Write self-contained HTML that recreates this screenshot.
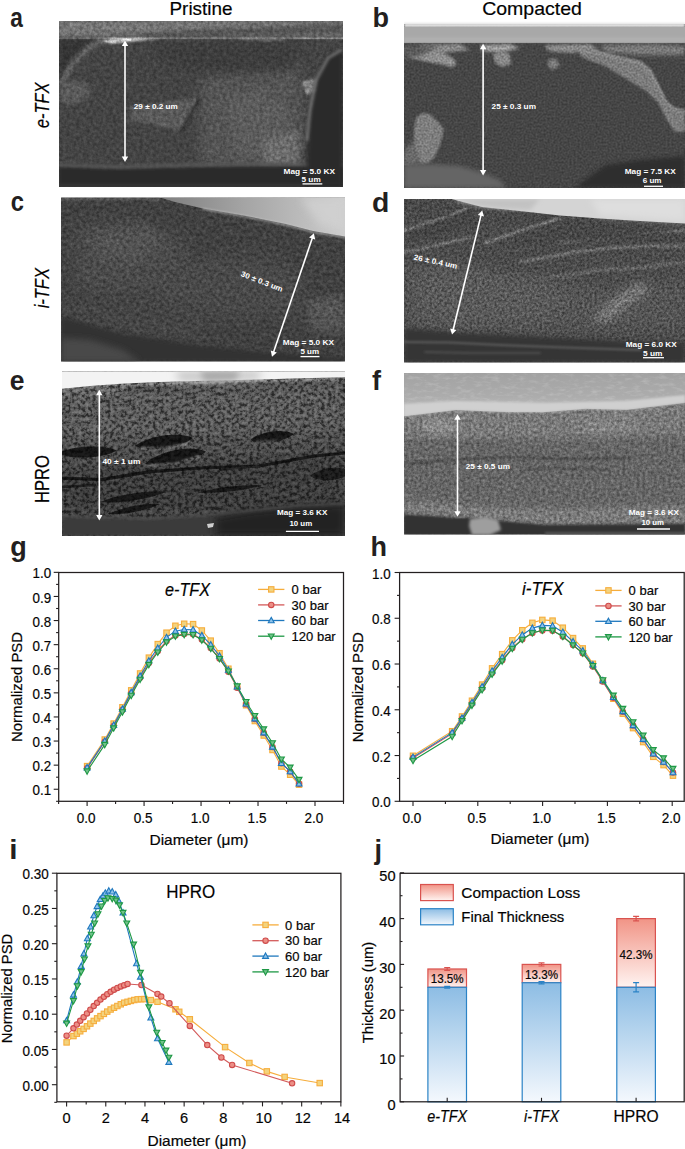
<!DOCTYPE html><html><head><meta charset="utf-8"><style>html,body{margin:0;padding:0;background:#fff;width:685px;height:1149px;overflow:hidden}svg{display:block;font-family:"Liberation Sans",sans-serif}</style></head><body><svg width="685" height="1149" viewBox="0 0 685 1149" font-family="Liberation Sans, sans-serif">
<rect width="685" height="1149" fill="#fff"/>
<defs><filter id="b0_7" filterUnits="userSpaceOnUse" x="0" y="0" width="685" height="1149"><feGaussianBlur stdDeviation="0.7"/></filter><filter id="b1" filterUnits="userSpaceOnUse" x="0" y="0" width="685" height="1149"><feGaussianBlur stdDeviation="1"/></filter><filter id="b1_5" filterUnits="userSpaceOnUse" x="0" y="0" width="685" height="1149"><feGaussianBlur stdDeviation="1.5"/></filter><filter id="b2" filterUnits="userSpaceOnUse" x="0" y="0" width="685" height="1149"><feGaussianBlur stdDeviation="2"/></filter><filter id="b3" filterUnits="userSpaceOnUse" x="0" y="0" width="685" height="1149"><feGaussianBlur stdDeviation="3"/></filter><filter id="b4" filterUnits="userSpaceOnUse" x="0" y="0" width="685" height="1149"><feGaussianBlur stdDeviation="4"/></filter><filter id="b6" filterUnits="userSpaceOnUse" x="0" y="0" width="685" height="1149"><feGaussianBlur stdDeviation="6"/></filter><filter id="b8" filterUnits="userSpaceOnUse" x="0" y="0" width="685" height="1149"><feGaussianBlur stdDeviation="8"/></filter></defs>
<clipPath id="ca"><rect x="59" y="21" width="284" height="166"/></clipPath>
<filter id="na" filterUnits="userSpaceOnUse" x="59" y="21" width="284" height="166" color-interpolation-filters="sRGB"><feTurbulence type="fractalNoise" baseFrequency="0.3" numOctaves="3" seed="3" result="t"/><feColorMatrix in="t" type="matrix" values="1 0 0 0 0  1 0 0 0 0  1 0 0 0 0  0 0 0 0 1" result="g00"/><feGaussianBlur in="g00" stdDeviation="0.45" result="g0"/><feComponentTransfer in="g0" result="g"><feFuncR type="linear" slope="1.0" intercept="0.0"/><feFuncG type="linear" slope="1.0" intercept="0.0"/><feFuncB type="linear" slope="1.0" intercept="0.0"/></feComponentTransfer><feComposite in="SourceGraphic" in2="g" operator="arithmetic" k1="0.7" k2="0.65" k3="0" k4="0"/></filter>
<g clip-path="url(#ca)"><g filter="url(#na)">
<rect x="59" y="21" width="284" height="166" fill="#444444"/>
<rect x="59" y="21" width="284" height="17" fill="#636363" opacity="1"/>
<path d="M59,21 L343,21 L343,24 L200,29 L100,35 L59,37 Z" fill="#767676" opacity="1" filter="url(#b2)"/>
<path d="M100,37 L200,31 L343,24.5 L343,31 L200,36.5 L120,38 Z" fill="#545454" opacity="1" filter="url(#b2)"/>
<rect x="59" y="37.4" width="284" height="1.8" fill="#878787" opacity="1" filter="url(#b0_7)"/>
<path d="M100,41 L115,38.5 L135,38 L160,39.5 L135,41 L112,44 Z" fill="#c8c8c8" opacity="1" filter="url(#b1)"/>
<path d="M120,38.5 L132,38.2 L131,40.5 L121,40.8 Z" fill="#e8e8e8" opacity="1" filter="url(#b0_7)"/>
<path d="M240,39.5 L255,38.5 L270,40 L283,39.5" fill="none" stroke="#a8a8a8" stroke-width="1.6" stroke-linecap="round" stroke-linejoin="round" opacity="1" filter="url(#b1)"/>
<path d="M59,39 L100,39 L84,50 L70,64 L62,80 L59,84 Z" fill="#353535" opacity="1" filter="url(#b2)"/>
<path d="M101,41 L88,48 L76,60 L67,72 L61,84" fill="none" stroke="#686868" stroke-width="5" stroke-linecap="round" stroke-linejoin="round" opacity="1" filter="url(#b2)"/>
<path d="M59,83 L72,80 L88,84 L90,96 L76,104 L59,103 Z" fill="#5a5a5a" opacity="1" filter="url(#b2)"/>
<path d="M200,70 L300,66 L305,150 L290,166 L200,166 Z" fill="#555555" opacity="1" filter="url(#b6)"/>
<path d="M225,100 L260,90 L290,110 L280,150 L240,160 Z" fill="#5c5c5c" opacity="1" filter="url(#b4)"/>
<path d="M150,42 L300,42 L290,70 L200,75 L160,60 Z" fill="#3e3e3e" opacity="1" filter="url(#b6)"/>
<path d="M263,140 L298,130 L300,166 L263,166 Z" fill="#6c6c6c" opacity="1" filter="url(#b3)"/>
<path d="M302,82 L318,78 L322,90 L306,95 Z" fill="#8a8a8a" opacity="1" filter="url(#b1)"/>
<path d="M130.4,107 L199.2,97 L180.8,130.5 L130.4,120.4 Z" fill="#5a5a5a" opacity="1" filter="url(#b1)"/>
<path d="M199.5,98 L181.5,131" fill="none" stroke="#2e2e2e" stroke-width="2" stroke-linecap="round" stroke-linejoin="round" opacity="1" filter="url(#b1)"/>
</g>
<path d="M59,166 L110,168.5 L170,167.5 L230,166 L300,165.5 L343,166 L343,187 L59,187 Z" fill="#2a2a2a" opacity="1" filter="url(#b1_5)"/>
<path d="M59,165 L120,167 L190,165 L260,164 L343,165" fill="none" stroke="#595959" stroke-width="3" stroke-linecap="round" stroke-linejoin="round" opacity="1" filter="url(#b1_5)"/>
<rect x="59" y="184" width="284" height="3" fill="#363636" opacity="1" filter="url(#b1)"/>
<path d="M343,49 L328,55 L315,80 L308,120 L306,187 L343,187 Z" fill="#2a2a2a" opacity="1" filter="url(#b2)"/>
<path d="M341,50 L328,58 L316,80 L310,110 L307,140" fill="none" stroke="#7c7c7c" stroke-width="2.5" stroke-linecap="round" stroke-linejoin="round" opacity="1" filter="url(#b1_5)"/>
</g>
<line x1="125.00" y1="44.90" x2="125.00" y2="157.60" stroke="#fff" stroke-width="1.6"/>
<path d="M125.00,40.50 L121.80,46.00 L128.20,46.00 Z" fill="#fff"/>
<path d="M125.00,162.00 L121.80,156.50 L128.20,156.50 Z" fill="#fff"/>
<text x="133.8" y="109.2" font-size="7.6" font-weight="bold" fill="#fff" text-anchor="start" textLength="44" lengthAdjust="spacingAndGlyphs">29 ± 0.2 um</text>
<text x="283.5" y="173.5" font-size="7.6" font-weight="bold" fill="#fff" text-anchor="start" textLength="51.5" lengthAdjust="spacingAndGlyphs">Mag = 5.0 KX</text>
<text x="301.5" y="181.8" font-size="7.6" font-weight="bold" fill="#fff" text-anchor="start" textLength="19.2" lengthAdjust="spacingAndGlyphs">5 um</text>
<line x1="302.5" y1="183.9" x2="322.3" y2="183.9" stroke="#fff" stroke-width="1.3"/>
<clipPath id="cb"><rect x="404" y="21" width="281" height="167"/></clipPath>
<filter id="nb" filterUnits="userSpaceOnUse" x="404" y="21" width="281" height="167" color-interpolation-filters="sRGB"><feTurbulence type="fractalNoise" baseFrequency="0.5" numOctaves="2" seed="5" result="t"/><feColorMatrix in="t" type="matrix" values="1 0 0 0 0  1 0 0 0 0  1 0 0 0 0  0 0 0 0 1" result="g00"/><feGaussianBlur in="g00" stdDeviation="0.45" result="g0"/><feComponentTransfer in="g0" result="g"><feFuncR type="linear" slope="1.0" intercept="0.0"/><feFuncG type="linear" slope="1.0" intercept="0.0"/><feFuncB type="linear" slope="1.0" intercept="0.0"/></feComponentTransfer><feComposite in="SourceGraphic" in2="g" operator="arithmetic" k1="0.64" k2="0.6799999999999999" k3="0" k4="0"/></filter>
<g clip-path="url(#cb)"><g filter="url(#nb)">
<rect x="404" y="21" width="281" height="167" fill="#464646"/>
<path d="M420,45 L460,44 L470,50 L440,53 L420,52 Z" fill="#8a8a8a" opacity="1" filter="url(#b1_5)"/>
<path d="M480,45 L510,44 L520,48 L500,53 L482,51 Z" fill="#9c9c9c" opacity="1" filter="url(#b1_5)"/>
<path d="M545,45 L590,44 L600,50 L570,53 L548,51 Z" fill="#8a8a8a" opacity="1" filter="url(#b1_5)"/>
<path d="M600,45 L650,44 L685,46 L685,55 L640,55 L605,52 Z" fill="#7c7c7c" opacity="1" filter="url(#b2)"/>
<path d="M406,54 L416,49.8 L431,48.8 L445,53 L454,59 L456.5,64.3 L452.4,67.3 L441,64.3 L424.6,61.2 L410,58 Z" fill="#8e8e8e" opacity="1" filter="url(#b1)"/>
<path d="M493,55 L502,51 L510,54 L511,64 L503,67 L495,63 Z" fill="#878787" opacity="1" filter="url(#b1)"/>
<path d="M580.4,51.8 L596.8,51.8 L621.4,57.9 L639.8,62 L650.1,70.2 L658.3,86.6 L666.5,103 L674.7,109.2 L685,111.2 L685,131.7 L674.7,131.7 L666.5,119.4 L658.3,103 L646,90.7 L625.5,78.4 L605,66.1 L588.6,60 L580.4,55.9 Z" fill="#7c7c7c" opacity="1" filter="url(#b1)"/>
<path d="M581,52 L597,52 L621,58 L640,62 L650,70 L658,86 L666,102 L675,109 L685,111" fill="none" stroke="#9c9c9c" stroke-width="2" stroke-linecap="round" stroke-linejoin="round" opacity="1" filter="url(#b1)"/>
<path d="M547.6,60 L556,58 L560,66 L552,70 L548,66 Z" fill="#7a7a7a" opacity="1" filter="url(#b1)"/>
<path d="M400,45 L440,46 L420,56 L404,60 Z" fill="#5a5a5a" opacity="1" filter="url(#b2)"/>
<path d="M416,118 L422,113 L430,114 L440,124 L444,130 L440,145 L434,158 L428,163 L420,164 L414,150 L414,130 Z" fill="#7e7e7e" opacity="1" filter="url(#b1)"/>
<path d="M404,150 L414,140 L420,164 L404,166 Z" fill="#6a6a6a" opacity="1" filter="url(#b2)"/>
</g>
<rect x="404" y="21" width="281" height="3" fill="#ffffff" opacity="1"/>
<rect x="404" y="23" width="281" height="4.5" fill="#e2e2e2" opacity="1" filter="url(#b1)"/>
<rect x="404" y="27" width="281" height="14.8" fill="#a8a8a8" opacity="1" filter="url(#b0_7)"/>
<rect x="404" y="37.5" width="281" height="4.3" fill="#b0b0b0" opacity="1" filter="url(#b1)"/>
<rect x="404" y="41.6" width="281" height="1.1" fill="#bcbcbc" opacity="1" filter="url(#b0_7)"/>
<path d="M404,165 L430,164 L460,166 L480,172 L500,180 L506,188 L404,188 Z" fill="#656565" opacity="1" filter="url(#b2)"/>
<path d="M575,188 L590,176 L606,165 L640,160 L685,156 L685,188 Z" fill="#2f2f2f" opacity="1" filter="url(#b2)"/>
</g>
<line x1="483.10" y1="48.10" x2="483.10" y2="171.10" stroke="#fff" stroke-width="1.6"/>
<path d="M483.10,43.70 L479.90,49.20 L486.30,49.20 Z" fill="#fff"/>
<path d="M483.10,175.50 L479.90,170.00 L486.30,170.00 Z" fill="#fff"/>
<text x="491.6" y="108.9" font-size="7.6" font-weight="bold" fill="#fff" text-anchor="start" textLength="44.4" lengthAdjust="spacingAndGlyphs">25 ± 0.3 um</text>
<text x="624.7" y="173.6" font-size="7.6" font-weight="bold" fill="#fff" text-anchor="start" textLength="51.1" lengthAdjust="spacingAndGlyphs">Mag = 7.5 KX</text>
<text x="642.7" y="183.0" font-size="7.6" font-weight="bold" fill="#fff" text-anchor="start" textLength="18.8" lengthAdjust="spacingAndGlyphs">6 um</text>
<line x1="644" y1="186.3" x2="663" y2="186.3" stroke="#fff" stroke-width="1.3"/>
<defs><linearGradient id="gc1" gradientUnits="userSpaceOnUse" x1="160" y1="0" x2="345" y2="0"><stop offset="0" stop-color="#7e7e7e"/><stop offset="0.45" stop-color="#a4a4a4"/><stop offset="1" stop-color="#cdcdcd"/></linearGradient></defs>
<clipPath id="cc"><rect x="61" y="197.5" width="284" height="164.0"/></clipPath>
<filter id="nc" filterUnits="userSpaceOnUse" x="61" y="197.5" width="284" height="164.0" color-interpolation-filters="sRGB"><feTurbulence type="fractalNoise" baseFrequency="0.3" numOctaves="3" seed="7" result="t"/><feColorMatrix in="t" type="matrix" values="1 0 0 0 0  1 0 0 0 0  1 0 0 0 0  0 0 0 0 1" result="g00"/><feGaussianBlur in="g00" stdDeviation="0.45" result="g0"/><feComponentTransfer in="g0" result="g"><feFuncR type="linear" slope="1.3" intercept="-0.15000000000000002"/><feFuncG type="linear" slope="1.3" intercept="-0.15000000000000002"/><feFuncB type="linear" slope="1.3" intercept="-0.15000000000000002"/></feComponentTransfer><feComposite in="SourceGraphic" in2="g" operator="arithmetic" k1="0.7" k2="0.65" k3="0" k4="0"/></filter>
<g clip-path="url(#cc)"><g filter="url(#nc)">
<rect x="61" y="197.5" width="284" height="164.0" fill="#414141"/>
<path d="M61,197.5 L160,197.5 L160,200 L61,200 Z" fill="#5e5e5e" opacity="1" filter="url(#b1)"/>
<path d="M75,225 L140,222 L185,240 L185,285 L130,295 L75,290 Z" fill="#4c4c4c" opacity="1" filter="url(#b8)"/>
<path d="M95,232 L150,226 L165,250 L130,262 L95,258 Z" fill="#525252" opacity="1" filter="url(#b6)"/>
<path d="M150,262 L260,255 L300,270 L300,315 L200,318 L150,300 Z" fill="#484848" opacity="1" filter="url(#b8)"/>
<path d="M61,300 L150,300 L203,320 L203,346 L123,334 L61,317 Z" fill="#444444" opacity="1" filter="url(#b4)"/>
<path d="M306,300 L345,295 L345,332 L310,330 Z" fill="#555555" opacity="1" filter="url(#b4)"/>
</g>
<path d="M160,197.5 L345,197.5 L345,236.5 L313,231 L286,224 L245,215.7 L203,208.4 L175,202 Z" fill="url(#gc1)" filter="url(#b0_7)"/>
<path d="M300,197.5 L345,197.5 L345,230 L320,225 Z" fill="#d2d2d2" opacity="0.8" filter="url(#b4)"/>
<path d="M203,209 L245,216.4 L286,224.8 L313,232 L345,237.2" fill="none" stroke="#cfcfcf" stroke-width="1.4" stroke-linecap="round" stroke-linejoin="round" opacity="0.8" filter="url(#b1)"/>
<path d="M61,317 L123,334 L203,346 L260,352 L345,358 L345,362 L61,362 Z" fill="#303030" opacity="1" filter="url(#b2)"/>
<path d="M61,338 L90,340 L123,350 L140,362 L61,362 Z" fill="#4a4a4a" opacity="1" filter="url(#b3)"/>
</g>
<line x1="312.49" y1="237.47" x2="273.41" y2="352.53" stroke="#fff" stroke-width="1.6"/>
<path d="M313.90,233.30 L309.10,237.48 L315.16,239.54 Z" fill="#fff"/>
<path d="M272.00,356.70 L270.74,350.46 L276.80,352.52 Z" fill="#fff"/>
<text x="240.3" y="275.8" font-size="7.6" font-weight="bold" fill="#fff" text-anchor="start" textLength="44.4" lengthAdjust="spacingAndGlyphs" transform="rotate(21.3 240.3 275.8)">30 ± 0.3 um</text>
<text x="282.8" y="345.2" font-size="7.6" font-weight="bold" fill="#fff" text-anchor="start" textLength="51.2" lengthAdjust="spacingAndGlyphs">Mag = 5.0 KX</text>
<text x="300.4" y="354.2" font-size="7.6" font-weight="bold" fill="#fff" text-anchor="start" textLength="18.6" lengthAdjust="spacingAndGlyphs">5 um</text>
<line x1="300.5" y1="356.6" x2="319.5" y2="356.6" stroke="#fff" stroke-width="1.3"/>
<clipPath id="cd"><rect x="404" y="199" width="281" height="163.5"/></clipPath>
<filter id="nd" filterUnits="userSpaceOnUse" x="404" y="199" width="281" height="163.5" color-interpolation-filters="sRGB"><feTurbulence type="fractalNoise" baseFrequency="0.4" numOctaves="3" seed="9" result="t"/><feColorMatrix in="t" type="matrix" values="1 0 0 0 0  1 0 0 0 0  1 0 0 0 0  0 0 0 0 1" result="g00"/><feGaussianBlur in="g00" stdDeviation="0.45" result="g0"/><feComponentTransfer in="g0" result="g"><feFuncR type="linear" slope="1.4" intercept="-0.19999999999999996"/><feFuncG type="linear" slope="1.4" intercept="-0.19999999999999996"/><feFuncB type="linear" slope="1.4" intercept="-0.19999999999999996"/></feComponentTransfer><feComposite in="SourceGraphic" in2="g" operator="arithmetic" k1="0.8" k2="0.6" k3="0" k4="0"/></filter>
<g clip-path="url(#cd)"><g filter="url(#nd)">
<rect x="404" y="199" width="281" height="163.5" fill="#4c4c4c"/>
<path d="M404,199 L457,199 L482,207 L560,215.4 L685,223.6 L685,240 L560,232 L480,222 L404,215 Z" fill="#4a4a4a" opacity="1" filter="url(#b3)"/>
<path d="M404,231 L428.6,222.8 L453.2,214.6 L465.5,208.5" fill="none" stroke="#888888" stroke-width="2.5" stroke-linecap="round" stroke-linejoin="round" opacity="1" filter="url(#b1)"/>
<path d="M486,243 L518.8,231 L539.4,224.9 L560,218.7" fill="none" stroke="#858585" stroke-width="2.5" stroke-linecap="round" stroke-linejoin="round" opacity="1" filter="url(#b1)"/>
<path d="M560,243 L588.6,239 L629.6,235 L685,231" fill="none" stroke="#858585" stroke-width="2.5" stroke-linecap="round" stroke-linejoin="round" opacity="1" filter="url(#b1)"/>
<path d="M404,251.5 L428.6,247.4 L453.2,241.3 L470,238" fill="none" stroke="#767676" stroke-width="2.5" stroke-linecap="round" stroke-linejoin="round" opacity="1" filter="url(#b1)"/>
<path d="M520,262 L545,258 L575,252 L610,248 L650,246 L685,246" fill="none" stroke="#747474" stroke-width="2.5" stroke-linecap="round" stroke-linejoin="round" opacity="1" filter="url(#b1)"/>
<path d="M490,285 L530,280 L570,275 L600,270 L640,268 L685,262" fill="none" stroke="#707070" stroke-width="2.5" stroke-linecap="round" stroke-linejoin="round" opacity="1" filter="url(#b1_5)"/>
<path d="M404,233 L453,216 L470,212 L480,222 L440,236 L404,242 Z" fill="#444444" opacity="1" filter="url(#b3)"/>
<path d="M490,246 L540,228 L560,222 L600,224 L685,234 L685,240 L600,242 L540,244 Z" fill="#474747" opacity="1" filter="url(#b3)"/>
<path d="M404,268 L440,262 L500,272 L560,280 L600,290 L685,280 L685,330 L404,330 Z" fill="#545454" opacity="1" filter="url(#b6)"/>
<path d="M420,275 L470,270 L540,285 L570,300 L540,320 L450,322 L420,310 Z" fill="#5a5a5a" opacity="1" filter="url(#b6)"/>
<path d="M640,282 L620,295 L600,312 L592,322 L610,320 L630,302 L650,290 Z" fill="#7c7c7c" opacity="1" filter="url(#b4)"/>
</g>
<path d="M452,199 L685,199 L685,223.6 L640,221 L600,218.5 L560,215.4 L520,211 L482,207 L457,200.5 Z" fill="#d4d4d4" opacity="1" filter="url(#b0_7)"/>
<path d="M452,199 L540,199 L530,210 L500,208.5 L482,206.5 L457,200.5 Z" fill="#c2c2c2" opacity="1" filter="url(#b2)"/>
<path d="M590,199 L685,199 L685,221 L600,215 Z" fill="#dedede" opacity="1" filter="url(#b3)"/>
<path d="M404,328 L460,333 L540,337 L620,341 L685,343 L685,363 L404,363 Z" fill="#363636" opacity="1" filter="url(#b2)"/>
<path d="M404,342 L450,342.5 L500,345 L580,348 L640,350" fill="none" stroke="#5c5c5c" stroke-width="2" stroke-linecap="round" stroke-linejoin="round" opacity="1" filter="url(#b1)"/>
<path d="M425,352 L470,353 L540,353" fill="none" stroke="#4e4e4e" stroke-width="2" stroke-linecap="round" stroke-linejoin="round" opacity="1" filter="url(#b1)"/>
</g>
<line x1="481.16" y1="214.68" x2="453.04" y2="330.22" stroke="#fff" stroke-width="1.6"/>
<path d="M482.20,210.40 L477.79,214.99 L484.01,216.50 Z" fill="#fff"/>
<path d="M452.00,334.50 L450.19,328.40 L456.41,329.91 Z" fill="#fff"/>
<text x="413.3" y="259.5" font-size="7.6" font-weight="bold" fill="#fff" text-anchor="start" textLength="44.4" lengthAdjust="spacingAndGlyphs" transform="rotate(11.9 413.3 259.5)">26 ± 0.4 um</text>
<text x="625.7" y="347.0" font-size="7.6" font-weight="bold" fill="#fff" text-anchor="start" textLength="51.1" lengthAdjust="spacingAndGlyphs">Mag = 6.0 KX</text>
<text x="643" y="355.6" font-size="7.6" font-weight="bold" fill="#fff" text-anchor="start" textLength="19.5" lengthAdjust="spacingAndGlyphs">5 um</text>
<line x1="643" y1="357.7" x2="664" y2="357.7" stroke="#fff" stroke-width="1.3"/>
<clipPath id="ce"><rect x="62" y="371.5" width="283" height="164.5"/></clipPath>
<filter id="ne" filterUnits="userSpaceOnUse" x="62" y="371.5" width="283" height="164.5" color-interpolation-filters="sRGB"><feTurbulence type="fractalNoise" baseFrequency="0.28" numOctaves="3" seed="11" result="t"/><feColorMatrix in="t" type="matrix" values="1 0 0 0 0  1 0 0 0 0  1 0 0 0 0  0 0 0 0 1" result="g00"/><feGaussianBlur in="g00" stdDeviation="0.45" result="g0"/><feComponentTransfer in="g0" result="g"><feFuncR type="table" tableValues="0 0.02 0.2 0.6 0.8 0.95 1"/><feFuncG type="table" tableValues="0 0.02 0.2 0.6 0.8 0.95 1"/><feFuncB type="table" tableValues="0 0.02 0.2 0.6 0.8 0.95 1"/></feComponentTransfer><feComposite in="SourceGraphic" in2="g" operator="arithmetic" k1="1.098" k2="0.4" k3="0" k4="0"/></filter>
<g clip-path="url(#ce)"><g filter="url(#ne)">
<rect x="62" y="371.5" width="283" height="164.5" fill="#4a4a4a"/>
<path d="M62,389.5 L90,387.5 L124,385 L160,384 L204,382 L260,381 L345,379" fill="none" stroke="#8a8a8a" stroke-width="2.5" stroke-linecap="round" stroke-linejoin="round" opacity="1" filter="url(#b1)"/>
<path d="M62,388 L124,384 L124,395 L62,400 Z" fill="#6a6a6a" opacity="1" filter="url(#b2)"/>
<path d="M74,401 L80,400 L87,409 L86,416 L80,415 L75,408 Z" fill="#a0a0a0" opacity="1" filter="url(#b1)"/>
<path d="M62,392 L345,383 L345,430 L62,440 Z" fill="#575757" opacity="1" filter="url(#b6)"/>
<path d="M62,468 L345,452 L345,515 L62,515 Z" fill="#3a3a3a" opacity="1" filter="url(#b6)"/>
<path d="M58.0,453.5 L63.9,450.8 L69.8,449.1 L75.7,447.8 L81.6,447.0 L87.5,446.5 L93.4,446.4 L99.3,446.6 L105.2,447.3 L111.1,448.4 L117.0,450.5 L117.0,450.5 L111.1,453.2 L105.2,454.9 L99.3,456.2 L93.4,457.0 L87.5,457.5 L81.6,457.6 L75.7,457.4 L69.8,456.7 L63.9,455.6 L58.0,453.5 Z" fill="#161616" opacity="1" filter="url(#b0_7)"/>
<path d="M135.0,446.0 L140.8,442.3 L146.6,439.9 L152.4,437.9 L158.2,436.5 L164.0,435.5 L169.8,434.9 L175.6,434.7 L181.4,435.1 L187.2,435.9 L193.0,438.0 L193.0,438.0 L187.2,441.7 L181.4,444.1 L175.6,446.1 L169.8,447.5 L164.0,448.5 L158.2,449.1 L152.4,449.3 L146.6,448.9 L140.8,448.1 L135.0,446.0 Z" fill="#151515" opacity="1" filter="url(#b0_7)"/>
<path d="M145.0,463.5 L151.1,459.0 L157.2,455.9 L163.3,453.4 L169.4,451.4 L175.5,450.0 L181.6,449.0 L187.7,448.6 L193.8,448.7 L199.9,449.4 L206.0,451.5 L206.0,451.5 L199.9,456.0 L193.8,459.1 L187.7,461.6 L181.6,463.6 L175.5,465.0 L169.4,466.0 L163.3,466.4 L157.2,466.3 L151.1,465.6 L145.0,463.5 Z" fill="#141414" opacity="1" filter="url(#b0_7)"/>
<path d="M250.0,440.0 L254.4,437.0 L258.8,435.0 L263.2,433.4 L267.6,432.3 L272.0,431.5 L276.4,431.1 L280.8,431.0 L285.2,431.4 L289.6,432.2 L294.0,434.0 L294.0,434.0 L289.6,437.0 L285.2,439.0 L280.8,440.6 L276.4,441.7 L272.0,442.5 L267.6,442.9 L263.2,443.0 L258.8,442.6 L254.4,441.8 L250.0,440.0 Z" fill="#181818" opacity="1" filter="url(#b0_7)"/>
<path d="M310.0,476.0 L314.2,473.0 L318.4,471.0 L322.6,469.6 L326.8,468.6 L331.0,468.0 L335.2,467.8 L339.4,468.0 L343.6,468.6 L347.8,469.8 L352.0,472.0 L352.0,472.0 L347.8,475.0 L343.6,477.0 L339.4,478.4 L335.2,479.4 L331.0,480.0 L326.8,480.2 L322.6,480.0 L318.4,479.4 L314.2,478.2 L310.0,476.0 Z" fill="#1a1a1a" opacity="1" filter="url(#b0_7)"/>
<path d="M150,465 L175,464 L200,456" fill="none" stroke="#8a8a8a" stroke-width="1.5" stroke-linecap="round" stroke-linejoin="round" opacity="1" filter="url(#b1)"/>
<path d="M140,448 L165,448 L188,444" fill="none" stroke="#7a7a7a" stroke-width="1.5" stroke-linecap="round" stroke-linejoin="round" opacity="1" filter="url(#b1)"/>
<path d="M253,441 L292,440 L290,450 L255,451 Z" fill="#4a4a4a" opacity="1" filter="url(#b1_5)"/>
<path d="M62,478 L101.5,479.7 L148.8,471.9 L200,468 L259,466 L314.4,456 L345,453" fill="none" stroke="#161616" stroke-width="3.2" stroke-linecap="round" stroke-linejoin="round" opacity="1" filter="url(#b0_7)"/>
<path d="M62,487 L95,485" fill="none" stroke="#1a1a1a" stroke-width="2.5" stroke-linecap="round" stroke-linejoin="round" opacity="1" filter="url(#b0_7)"/>
<path d="M100.0,502.0 L106.6,499.5 L113.2,497.6 L119.8,496.0 L126.4,494.6 L133.0,493.5 L139.6,492.6 L146.2,492.0 L152.8,491.6 L159.4,491.5 L166.0,492.0 L166.0,492.0 L159.4,494.5 L152.8,496.4 L146.2,498.0 L139.6,499.4 L133.0,500.5 L126.4,501.4 L119.8,502.0 L113.2,502.4 L106.6,502.5 L100.0,502.0 Z" fill="#171717" opacity="1" filter="url(#b0_7)"/>
<path d="M108.0,514.0 L113.2,511.7 L118.4,509.9 L123.6,508.4 L128.8,507.1 L134.0,506.0 L139.2,505.1 L144.4,504.4 L149.6,503.9 L154.8,503.7 L160.0,504.0 L160.0,504.0 L154.8,506.3 L149.6,508.1 L144.4,509.6 L139.2,510.9 L134.0,512.0 L128.8,512.9 L123.6,513.6 L118.4,514.1 L113.2,514.3 L108.0,514.0 Z" fill="#171717" opacity="1" filter="url(#b0_7)"/>
<path d="M198.0,492.5 L204.4,490.7 L210.8,489.4 L217.2,488.2 L223.6,487.3 L230.0,486.5 L236.4,485.9 L242.8,485.4 L249.2,485.2 L255.6,485.1 L262.0,485.5 L262.0,485.5 L255.6,487.3 L249.2,488.6 L242.8,489.8 L236.4,490.7 L230.0,491.5 L223.6,492.1 L217.2,492.6 L210.8,492.8 L204.4,492.9 L198.0,492.5 Z" fill="#191919" opacity="1" filter="url(#b0_7)"/>
<path d="M220,470 L260,466" fill="none" stroke="#222" stroke-width="2" stroke-linecap="round" stroke-linejoin="round" opacity="1" filter="url(#b0_7)"/>
</g>
<path d="M62,371.5 L345,371.5 L345,377.3 L300,378.3 L260,379.5 L204,380.8 L160,382 L124,383.5 L90,386 L62,388.7 Z" fill="#f3f3f3" opacity="1" filter="url(#b0_7)"/>
<path d="M175,371.5 L262,371.5 L258,379.5 L204,380.8 L180,381 Z" fill="#c4c4c4" opacity="1" filter="url(#b4)"/>
<path d="M200,371.5 L240,371.5 L236,379.8 L204,380.8 Z" fill="#a6a6a6" opacity="1" filter="url(#b3)"/>
<path d="M62,517 L150,519 L204,516 L250,511 L300,506 L345,504 L345,536 L62,536 Z" fill="#3a3a3a" opacity="1" filter="url(#b1_5)"/>
<path d="M215,517 L250,511 L300,506 L345,504 L345,536 L215,536 Z" fill="#202020" opacity="1" filter="url(#b4)"/>
<path d="M62,516.5 L150,518.5 L204,515.5 L250,510.5 L300,505.5 L345,503.5" fill="none" stroke="#4a4a4a" stroke-width="2" stroke-linecap="round" stroke-linejoin="round" opacity="1" filter="url(#b1)"/>
<path d="M207,524 L214,523 L213,527 L208,528 Z" fill="#cfcfcf" opacity="1" filter="url(#b0_7)"/>
</g>
<line x1="99.30" y1="394.10" x2="99.30" y2="516.00" stroke="#fff" stroke-width="1.6"/>
<path d="M99.30,389.70 L96.10,395.20 L102.50,395.20 Z" fill="#fff"/>
<path d="M99.30,520.40 L96.10,514.90 L102.50,514.90 Z" fill="#fff"/>
<text x="102.4" y="463.6" font-size="7.6" font-weight="bold" fill="#fff" text-anchor="start" textLength="38" lengthAdjust="spacingAndGlyphs">40 ± 1 um</text>
<text x="277" y="515.3" font-size="7.6" font-weight="bold" fill="#fff" text-anchor="start" textLength="50.3" lengthAdjust="spacingAndGlyphs">Mag = 3.6 KX</text>
<text x="289.4" y="525.6" font-size="7.6" font-weight="bold" fill="#fff" text-anchor="start" textLength="22.8" lengthAdjust="spacingAndGlyphs">10 um</text>
<line x1="285.9" y1="531.4" x2="319" y2="531.4" stroke="#fff" stroke-width="1.3"/>
<defs><linearGradient id="gf1" gradientUnits="userSpaceOnUse" x1="0" y1="373" x2="0" y2="412"><stop offset="0" stop-color="#a2a2a2"/><stop offset="0.6" stop-color="#acacac"/><stop offset="1" stop-color="#bdbdbd"/></linearGradient><filter id="nf2" filterUnits="userSpaceOnUse" x="404" y="373" width="281" height="45" color-interpolation-filters="sRGB"><feTurbulence type="fractalNoise" baseFrequency="0.12 0.3" numOctaves="3" seed="21"/><feColorMatrix type="matrix" values="0 0 0 0 1  0 0 0 0 1  0 0 0 0 1  1.2 0 0 0 -0.55"/></filter></defs>
<clipPath id="cf_top"><path d="M404,373 L685,373 L685,402.7 L626.8,409.8 L585.9,408.8 L545,411.9 L507,412 L455.5,410 L404,416.3 Z"/></clipPath>
<clipPath id="cf"><rect x="404" y="373" width="281" height="161.60000000000002"/></clipPath>
<filter id="nf" filterUnits="userSpaceOnUse" x="404" y="373" width="281" height="161.60000000000002" color-interpolation-filters="sRGB"><feTurbulence type="fractalNoise" baseFrequency="0.35" numOctaves="3" seed="13" result="t"/><feColorMatrix in="t" type="matrix" values="1 0 0 0 0  1 0 0 0 0  1 0 0 0 0  0 0 0 0 1" result="g00"/><feGaussianBlur in="g00" stdDeviation="0.45" result="g0"/><feComponentTransfer in="g0" result="g"><feFuncR type="linear" slope="1.3" intercept="-0.15000000000000002"/><feFuncG type="linear" slope="1.3" intercept="-0.15000000000000002"/><feFuncB type="linear" slope="1.3" intercept="-0.15000000000000002"/></feComponentTransfer><feComposite in="SourceGraphic" in2="g" operator="arithmetic" k1="0.7" k2="0.65" k3="0" k4="0"/></filter>
<g clip-path="url(#cf)"><g filter="url(#nf)">
<rect x="404" y="373" width="281" height="161.60000000000002" fill="#6c6c6c"/>
<path d="M404,416.3 L455.5,410 L507,412 L545,411.9 L585.9,408.8 L626.8,409.8 L685,402.7 L685,440 L404,440 Z" fill="#7a7a7a" opacity="1" filter="url(#b1)"/>
<path d="M422,420 L450,418 L456,428 L445,436 L425,435 Z" fill="#8b8b8b" opacity="1" filter="url(#b2)"/>
<path d="M580,420 L620,415 L640,425 L620,440 L590,438 Z" fill="#828282" opacity="1" filter="url(#b3)"/>
<path d="M404,438 L545,440 L685,434 L685,505 L404,505 Z" fill="#666666" opacity="1" filter="url(#b4)"/>
<path d="M404,464 L440,461 L505,457 L560,459 L632,458" fill="none" stroke="#3c3c3c" stroke-width="1.6" stroke-linecap="round" stroke-linejoin="round" opacity="1" filter="url(#b1)"/>
<path d="M520,470 L560,468 L610,470" fill="none" stroke="#4a4a4a" stroke-width="1.5" stroke-linecap="round" stroke-linejoin="round" opacity="1" filter="url(#b1)"/>
<path d="M404,500 L460,505 L545,510 L685,506 L685,524 L545,525 L470,518 L404,514 Z" fill="#7a7a7a" opacity="1" filter="url(#b2)"/>
</g>
<path d="M404,373 L685,373 L685,402.7 L626.8,409.8 L585.9,408.8 L545,411.9 L507,412 L455.5,410 L404,416.3 Z" fill="url(#gf1)"/>
<rect x="404" y="373" width="281" height="45" filter="url(#nf2)" opacity="0.35" clip-path="url(#cf_top)"/>
<path d="M404,404 L455,401 L545,403 L626,401 L685,395 L685,402.7 L626.8,409.8 L585.9,408.8 L545,411.9 L507,412 L455.5,410 L404,416.3 Z" fill="#d0d0d0" opacity="1" filter="url(#b1)"/>
<path d="M404,514.5 L430,516 L457,518 L470,518 L500,521 L545,525 L600,524.5 L685,524 L685,535 L404,535 Z" fill="#323232" opacity="1" filter="url(#b1)"/>
<path d="M470,519 L485,517 L498,520 L501,530 L490,535 L472,535 L469,526 Z" fill="#9e9e9e" opacity="1" filter="url(#b1_5)"/>
<rect x="545" y="532" width="140" height="3" fill="#555555" opacity="1" filter="url(#b1)"/>
</g>
<line x1="457.50" y1="418.60" x2="457.50" y2="512.30" stroke="#fff" stroke-width="1.6"/>
<path d="M457.50,414.20 L454.30,419.70 L460.70,419.70 Z" fill="#fff"/>
<path d="M457.50,516.70 L454.30,511.20 L460.70,511.20 Z" fill="#fff"/>
<text x="465.8" y="469.0" font-size="7.6" font-weight="bold" fill="#fff" text-anchor="start" textLength="44.2" lengthAdjust="spacingAndGlyphs">25 ± 0.5 um</text>
<text x="628.8" y="514.7" font-size="7.6" font-weight="bold" fill="#fff" text-anchor="start" textLength="50.1" lengthAdjust="spacingAndGlyphs">Mag = 3.6 KX</text>
<text x="641.5" y="524.5" font-size="7.6" font-weight="bold" fill="#fff" text-anchor="start" textLength="22.5" lengthAdjust="spacingAndGlyphs">10 um</text>
<line x1="637" y1="529" x2="670" y2="529" stroke="#fff" stroke-width="1.3"/>
<text x="0" y="0" font-size="27" font-weight="bold" fill="#231f20" transform="translate(10.2 27) scale(0.84 1)">a</text>
<text x="0" y="0" font-size="27" font-weight="bold" fill="#231f20" transform="translate(372.5 27) scale(1.0 1)">b</text>
<text x="0" y="0" font-size="27" font-weight="bold" fill="#231f20" transform="translate(10.7 211) scale(0.88 1)">c</text>
<text x="0" y="0" font-size="27" font-weight="bold" fill="#231f20" transform="translate(372.0 211.5) scale(1.05 1)">d</text>
<text x="0" y="0" font-size="27" font-weight="bold" fill="#231f20" transform="translate(9.8 390) scale(0.98 1)">e</text>
<text x="0" y="0" font-size="27" font-weight="bold" fill="#231f20" transform="translate(372 389.5) scale(1.0 1)">f</text>
<text x="0" y="0" font-size="27" font-weight="bold" fill="#231f20" transform="translate(10.2 556) scale(1.0 1)">g</text>
<text x="0" y="0" font-size="27" font-weight="bold" fill="#231f20" transform="translate(370.5 556.2) scale(1.0 1)">h</text>
<text x="0" y="0" font-size="27" font-weight="bold" fill="#231f20" transform="translate(9.2 859.2) scale(1.1 1)">i</text>
<text x="0" y="0" font-size="27" font-weight="bold" fill="#231f20" transform="translate(374.5 859.2) scale(1.0 1)">j</text>
<text x="201.00" y="14.50" font-size="18.2" text-anchor="middle" stroke="#231f20" stroke-width="0.22" textLength="63" lengthAdjust="spacingAndGlyphs">Pristine</text>
<text x="532.00" y="14.80" font-size="18.2" text-anchor="middle" stroke="#231f20" stroke-width="0.22" textLength="99.7" lengthAdjust="spacingAndGlyphs">Compacted</text>
<text x="49.00" y="105.40" font-size="20" text-anchor="middle" stroke="#231f20" stroke-width="0.22" font-style="italic" textLength="45.4" lengthAdjust="spacingAndGlyphs" transform="rotate(-90 49.00 105.40)">e-TFX</text>
<text x="49.00" y="288.20" font-size="20" text-anchor="middle" stroke="#231f20" stroke-width="0.22" font-style="italic" textLength="40.3" lengthAdjust="spacingAndGlyphs" transform="rotate(-90 49.00 288.20)">i-TFX</text>
<text x="49.00" y="479.10" font-size="20" text-anchor="middle" stroke="#231f20" stroke-width="0.22" textLength="47.8" lengthAdjust="spacingAndGlyphs" transform="rotate(-90 49.00 479.10)">HPRO</text>
<rect x="58.70" y="572.50" width="284.80" height="228.80" fill="none" stroke="#231f20" stroke-width="1.25"/>
<line x1="53.70" y1="789.25" x2="58.70" y2="789.25" stroke="#231f20" stroke-width="1.1"/>
<text x="51.20" y="795.35" font-size="14.6" text-anchor="end" stroke="#231f20" stroke-width="0.22" textLength="18.6" lengthAdjust="spacingAndGlyphs">0.1</text>
<line x1="53.70" y1="765.15" x2="58.70" y2="765.15" stroke="#231f20" stroke-width="1.1"/>
<text x="51.20" y="771.25" font-size="14.6" text-anchor="end" stroke="#231f20" stroke-width="0.22" textLength="18.6" lengthAdjust="spacingAndGlyphs">0.2</text>
<line x1="53.70" y1="741.05" x2="58.70" y2="741.05" stroke="#231f20" stroke-width="1.1"/>
<text x="51.20" y="747.15" font-size="14.6" text-anchor="end" stroke="#231f20" stroke-width="0.22" textLength="18.6" lengthAdjust="spacingAndGlyphs">0.3</text>
<line x1="53.70" y1="716.95" x2="58.70" y2="716.95" stroke="#231f20" stroke-width="1.1"/>
<text x="51.20" y="723.05" font-size="14.6" text-anchor="end" stroke="#231f20" stroke-width="0.22" textLength="18.6" lengthAdjust="spacingAndGlyphs">0.4</text>
<line x1="53.70" y1="692.85" x2="58.70" y2="692.85" stroke="#231f20" stroke-width="1.1"/>
<text x="51.20" y="698.95" font-size="14.6" text-anchor="end" stroke="#231f20" stroke-width="0.22" textLength="18.6" lengthAdjust="spacingAndGlyphs">0.5</text>
<line x1="53.70" y1="668.75" x2="58.70" y2="668.75" stroke="#231f20" stroke-width="1.1"/>
<text x="51.20" y="674.85" font-size="14.6" text-anchor="end" stroke="#231f20" stroke-width="0.22" textLength="18.6" lengthAdjust="spacingAndGlyphs">0.6</text>
<line x1="53.70" y1="644.65" x2="58.70" y2="644.65" stroke="#231f20" stroke-width="1.1"/>
<text x="51.20" y="650.75" font-size="14.6" text-anchor="end" stroke="#231f20" stroke-width="0.22" textLength="18.6" lengthAdjust="spacingAndGlyphs">0.7</text>
<line x1="53.70" y1="620.55" x2="58.70" y2="620.55" stroke="#231f20" stroke-width="1.1"/>
<text x="51.20" y="626.65" font-size="14.6" text-anchor="end" stroke="#231f20" stroke-width="0.22" textLength="18.6" lengthAdjust="spacingAndGlyphs">0.8</text>
<line x1="53.70" y1="596.45" x2="58.70" y2="596.45" stroke="#231f20" stroke-width="1.1"/>
<text x="51.20" y="602.55" font-size="14.6" text-anchor="end" stroke="#231f20" stroke-width="0.22" textLength="18.6" lengthAdjust="spacingAndGlyphs">0.9</text>
<line x1="53.70" y1="572.35" x2="58.70" y2="572.35" stroke="#231f20" stroke-width="1.1"/>
<text x="51.20" y="578.45" font-size="14.6" text-anchor="end" stroke="#231f20" stroke-width="0.22" textLength="18.6" lengthAdjust="spacingAndGlyphs">1.0</text>
<line x1="56.10" y1="801.30" x2="58.70" y2="801.30" stroke="#231f20" stroke-width="1.1"/>
<line x1="56.10" y1="777.20" x2="58.70" y2="777.20" stroke="#231f20" stroke-width="1.1"/>
<line x1="56.10" y1="753.10" x2="58.70" y2="753.10" stroke="#231f20" stroke-width="1.1"/>
<line x1="56.10" y1="729.00" x2="58.70" y2="729.00" stroke="#231f20" stroke-width="1.1"/>
<line x1="56.10" y1="704.90" x2="58.70" y2="704.90" stroke="#231f20" stroke-width="1.1"/>
<line x1="56.10" y1="680.80" x2="58.70" y2="680.80" stroke="#231f20" stroke-width="1.1"/>
<line x1="56.10" y1="656.70" x2="58.70" y2="656.70" stroke="#231f20" stroke-width="1.1"/>
<line x1="56.10" y1="632.60" x2="58.70" y2="632.60" stroke="#231f20" stroke-width="1.1"/>
<line x1="56.10" y1="608.50" x2="58.70" y2="608.50" stroke="#231f20" stroke-width="1.1"/>
<line x1="56.10" y1="584.40" x2="58.70" y2="584.40" stroke="#231f20" stroke-width="1.1"/>
<line x1="87.10" y1="801.30" x2="87.10" y2="805.90" stroke="#231f20" stroke-width="1.1"/>
<text x="86.10" y="822.50" font-size="14.6" text-anchor="middle" stroke="#231f20" stroke-width="0.22" textLength="18.8" lengthAdjust="spacingAndGlyphs">0.0</text>
<line x1="144.07" y1="801.30" x2="144.07" y2="805.90" stroke="#231f20" stroke-width="1.1"/>
<text x="143.07" y="822.50" font-size="14.6" text-anchor="middle" stroke="#231f20" stroke-width="0.22" textLength="18.8" lengthAdjust="spacingAndGlyphs">0.5</text>
<line x1="201.05" y1="801.30" x2="201.05" y2="805.90" stroke="#231f20" stroke-width="1.1"/>
<text x="200.05" y="822.50" font-size="14.6" text-anchor="middle" stroke="#231f20" stroke-width="0.22" textLength="18.8" lengthAdjust="spacingAndGlyphs">1.0</text>
<line x1="258.02" y1="801.30" x2="258.02" y2="805.90" stroke="#231f20" stroke-width="1.1"/>
<text x="257.02" y="822.50" font-size="14.6" text-anchor="middle" stroke="#231f20" stroke-width="0.22" textLength="18.8" lengthAdjust="spacingAndGlyphs">1.5</text>
<line x1="315.00" y1="801.30" x2="315.00" y2="805.90" stroke="#231f20" stroke-width="1.1"/>
<text x="314.00" y="822.50" font-size="14.6" text-anchor="middle" stroke="#231f20" stroke-width="0.22" textLength="18.8" lengthAdjust="spacingAndGlyphs">2.0</text>
<line x1="58.61" y1="801.30" x2="58.61" y2="803.90" stroke="#231f20" stroke-width="1.1"/>
<line x1="115.59" y1="801.30" x2="115.59" y2="803.90" stroke="#231f20" stroke-width="1.1"/>
<line x1="172.56" y1="801.30" x2="172.56" y2="803.90" stroke="#231f20" stroke-width="1.1"/>
<line x1="229.54" y1="801.30" x2="229.54" y2="803.90" stroke="#231f20" stroke-width="1.1"/>
<line x1="286.51" y1="801.30" x2="286.51" y2="803.90" stroke="#231f20" stroke-width="1.1"/>
<line x1="343.49" y1="801.30" x2="343.49" y2="803.90" stroke="#231f20" stroke-width="1.1"/>
<text x="199.00" y="844.60" font-size="14.7" text-anchor="middle" stroke="#231f20" stroke-width="0.22" textLength="99" lengthAdjust="spacingAndGlyphs">Diameter (μm)</text>
<text x="21.50" y="687.00" font-size="14.7" text-anchor="middle" stroke="#231f20" stroke-width="0.22" textLength="110" lengthAdjust="spacingAndGlyphs" transform="rotate(-90 21.50 687.00)">Normalized PSD</text>
<text x="187.50" y="595.80" font-size="18.5" text-anchor="middle" stroke="#231f20" stroke-width="0.22" font-style="italic" textLength="45" lengthAdjust="spacingAndGlyphs">e-TFX</text>
<path d="M87.10,766.11 L104.76,739.54 L113.65,723.56 L122.42,707.25 L131.20,690.33 L140.09,673.47 L148.86,657.65 L157.75,644.09 L166.52,632.69 L175.41,625.77 L184.19,623.76 L193.07,624.13 L201.85,630.49 L210.74,640.63 L219.51,653.23 L228.40,668.71 L237.17,686.84 L246.06,705.23 L254.83,721.03 L263.72,735.51 L272.50,749.99 L281.38,766.50 L290.16,774.75 L299.05,784.66" fill="none" stroke="#f6ad3c" stroke-width="1.1"/>
<rect x="84.40" y="763.41" width="5.40" height="5.40" fill="#f3d37e" stroke="#f6ad3c" stroke-width="1.1"/>
<rect x="102.06" y="736.84" width="5.40" height="5.40" fill="#f3d37e" stroke="#f6ad3c" stroke-width="1.1"/>
<rect x="110.95" y="720.86" width="5.40" height="5.40" fill="#f3d37e" stroke="#f6ad3c" stroke-width="1.1"/>
<rect x="119.72" y="704.55" width="5.40" height="5.40" fill="#f3d37e" stroke="#f6ad3c" stroke-width="1.1"/>
<rect x="128.50" y="687.63" width="5.40" height="5.40" fill="#f3d37e" stroke="#f6ad3c" stroke-width="1.1"/>
<rect x="137.39" y="670.77" width="5.40" height="5.40" fill="#f3d37e" stroke="#f6ad3c" stroke-width="1.1"/>
<rect x="146.16" y="654.95" width="5.40" height="5.40" fill="#f3d37e" stroke="#f6ad3c" stroke-width="1.1"/>
<rect x="155.05" y="641.39" width="5.40" height="5.40" fill="#f3d37e" stroke="#f6ad3c" stroke-width="1.1"/>
<rect x="163.82" y="629.99" width="5.40" height="5.40" fill="#f3d37e" stroke="#f6ad3c" stroke-width="1.1"/>
<rect x="172.71" y="623.07" width="5.40" height="5.40" fill="#f3d37e" stroke="#f6ad3c" stroke-width="1.1"/>
<rect x="181.49" y="621.06" width="5.40" height="5.40" fill="#f3d37e" stroke="#f6ad3c" stroke-width="1.1"/>
<rect x="190.37" y="621.43" width="5.40" height="5.40" fill="#f3d37e" stroke="#f6ad3c" stroke-width="1.1"/>
<rect x="199.15" y="627.79" width="5.40" height="5.40" fill="#f3d37e" stroke="#f6ad3c" stroke-width="1.1"/>
<rect x="208.04" y="637.93" width="5.40" height="5.40" fill="#f3d37e" stroke="#f6ad3c" stroke-width="1.1"/>
<rect x="216.81" y="650.53" width="5.40" height="5.40" fill="#f3d37e" stroke="#f6ad3c" stroke-width="1.1"/>
<rect x="225.70" y="666.01" width="5.40" height="5.40" fill="#f3d37e" stroke="#f6ad3c" stroke-width="1.1"/>
<rect x="234.47" y="684.14" width="5.40" height="5.40" fill="#f3d37e" stroke="#f6ad3c" stroke-width="1.1"/>
<rect x="243.36" y="702.53" width="5.40" height="5.40" fill="#f3d37e" stroke="#f6ad3c" stroke-width="1.1"/>
<rect x="252.13" y="718.33" width="5.40" height="5.40" fill="#f3d37e" stroke="#f6ad3c" stroke-width="1.1"/>
<rect x="261.02" y="732.81" width="5.40" height="5.40" fill="#f3d37e" stroke="#f6ad3c" stroke-width="1.1"/>
<rect x="269.80" y="747.29" width="5.40" height="5.40" fill="#f3d37e" stroke="#f6ad3c" stroke-width="1.1"/>
<rect x="278.68" y="763.80" width="5.40" height="5.40" fill="#f3d37e" stroke="#f6ad3c" stroke-width="1.1"/>
<rect x="287.46" y="772.05" width="5.40" height="5.40" fill="#f3d37e" stroke="#f6ad3c" stroke-width="1.1"/>
<rect x="296.35" y="781.96" width="5.40" height="5.40" fill="#f3d37e" stroke="#f6ad3c" stroke-width="1.1"/>
<path d="M87.10,768.29 L104.76,741.83 L113.65,725.99 L122.42,709.99 L131.20,693.62 L140.09,677.65 L148.86,663.04 L157.75,650.97 L166.52,641.07 L175.41,635.40 L184.19,634.01 L193.07,634.19 L201.85,639.56 L210.74,648.03 L219.51,658.57 L228.40,671.76 L237.17,687.73 L246.06,704.34 L254.83,718.97 L263.72,732.77 L272.50,746.90 L281.38,763.25 L290.16,771.43 L299.05,783.71" fill="none" stroke="#d35a5a" stroke-width="1.1"/>
<circle cx="87.10" cy="768.29" r="2.70" fill="#ec8f86" stroke="#cf4b4b" stroke-width="1.1"/>
<circle cx="104.76" cy="741.83" r="2.70" fill="#ec8f86" stroke="#cf4b4b" stroke-width="1.1"/>
<circle cx="113.65" cy="725.99" r="2.70" fill="#ec8f86" stroke="#cf4b4b" stroke-width="1.1"/>
<circle cx="122.42" cy="709.99" r="2.70" fill="#ec8f86" stroke="#cf4b4b" stroke-width="1.1"/>
<circle cx="131.20" cy="693.62" r="2.70" fill="#ec8f86" stroke="#cf4b4b" stroke-width="1.1"/>
<circle cx="140.09" cy="677.65" r="2.70" fill="#ec8f86" stroke="#cf4b4b" stroke-width="1.1"/>
<circle cx="148.86" cy="663.04" r="2.70" fill="#ec8f86" stroke="#cf4b4b" stroke-width="1.1"/>
<circle cx="157.75" cy="650.97" r="2.70" fill="#ec8f86" stroke="#cf4b4b" stroke-width="1.1"/>
<circle cx="166.52" cy="641.07" r="2.70" fill="#ec8f86" stroke="#cf4b4b" stroke-width="1.1"/>
<circle cx="175.41" cy="635.40" r="2.70" fill="#ec8f86" stroke="#cf4b4b" stroke-width="1.1"/>
<circle cx="184.19" cy="634.01" r="2.70" fill="#ec8f86" stroke="#cf4b4b" stroke-width="1.1"/>
<circle cx="193.07" cy="634.19" r="2.70" fill="#ec8f86" stroke="#cf4b4b" stroke-width="1.1"/>
<circle cx="201.85" cy="639.56" r="2.70" fill="#ec8f86" stroke="#cf4b4b" stroke-width="1.1"/>
<circle cx="210.74" cy="648.03" r="2.70" fill="#ec8f86" stroke="#cf4b4b" stroke-width="1.1"/>
<circle cx="219.51" cy="658.57" r="2.70" fill="#ec8f86" stroke="#cf4b4b" stroke-width="1.1"/>
<circle cx="228.40" cy="671.76" r="2.70" fill="#ec8f86" stroke="#cf4b4b" stroke-width="1.1"/>
<circle cx="237.17" cy="687.73" r="2.70" fill="#ec8f86" stroke="#cf4b4b" stroke-width="1.1"/>
<circle cx="246.06" cy="704.34" r="2.70" fill="#ec8f86" stroke="#cf4b4b" stroke-width="1.1"/>
<circle cx="254.83" cy="718.97" r="2.70" fill="#ec8f86" stroke="#cf4b4b" stroke-width="1.1"/>
<circle cx="263.72" cy="732.77" r="2.70" fill="#ec8f86" stroke="#cf4b4b" stroke-width="1.1"/>
<circle cx="272.50" cy="746.90" r="2.70" fill="#ec8f86" stroke="#cf4b4b" stroke-width="1.1"/>
<circle cx="281.38" cy="763.25" r="2.70" fill="#ec8f86" stroke="#cf4b4b" stroke-width="1.1"/>
<circle cx="290.16" cy="771.43" r="2.70" fill="#ec8f86" stroke="#cf4b4b" stroke-width="1.1"/>
<circle cx="299.05" cy="783.71" r="2.70" fill="#ec8f86" stroke="#cf4b4b" stroke-width="1.1"/>
<path d="M87.10,767.56 L104.76,741.05 L113.65,725.14 L122.42,709.00 L131.20,692.37 L140.09,675.98 L148.86,660.80 L157.75,648.02 L166.52,637.42 L175.41,631.15 L184.19,629.47 L193.07,629.71 L201.85,635.49 L210.74,644.65 L219.51,655.98 L228.40,669.95 L237.17,686.58 L246.06,703.69 L254.83,718.64 L263.72,732.62 L272.50,746.83 L281.38,763.22 L290.16,771.42 L299.05,783.71" fill="none" stroke="#1f78be" stroke-width="1.1"/>
<path d="M87.10,764.44 L90.07,769.83 L84.13,769.83 Z" fill="#8fc3ea" stroke="#1f78be" stroke-width="1.1"/>
<path d="M104.76,737.93 L107.73,743.32 L101.79,743.32 Z" fill="#8fc3ea" stroke="#1f78be" stroke-width="1.1"/>
<path d="M113.65,722.03 L116.62,727.41 L110.68,727.41 Z" fill="#8fc3ea" stroke="#1f78be" stroke-width="1.1"/>
<path d="M122.42,705.88 L125.39,711.26 L119.45,711.26 Z" fill="#8fc3ea" stroke="#1f78be" stroke-width="1.1"/>
<path d="M131.20,689.25 L134.17,694.64 L128.23,694.64 Z" fill="#8fc3ea" stroke="#1f78be" stroke-width="1.1"/>
<path d="M140.09,672.86 L143.06,678.25 L137.12,678.25 Z" fill="#8fc3ea" stroke="#1f78be" stroke-width="1.1"/>
<path d="M148.86,657.68 L151.83,663.07 L145.89,663.07 Z" fill="#8fc3ea" stroke="#1f78be" stroke-width="1.1"/>
<path d="M157.75,644.91 L160.72,650.29 L154.78,650.29 Z" fill="#8fc3ea" stroke="#1f78be" stroke-width="1.1"/>
<path d="M166.52,634.30 L169.49,639.69 L163.55,639.69 Z" fill="#8fc3ea" stroke="#1f78be" stroke-width="1.1"/>
<path d="M175.41,628.04 L178.38,633.42 L172.44,633.42 Z" fill="#8fc3ea" stroke="#1f78be" stroke-width="1.1"/>
<path d="M184.19,626.35 L187.16,631.74 L181.22,631.74 Z" fill="#8fc3ea" stroke="#1f78be" stroke-width="1.1"/>
<path d="M193.07,626.59 L196.04,631.98 L190.10,631.98 Z" fill="#8fc3ea" stroke="#1f78be" stroke-width="1.1"/>
<path d="M201.85,632.37 L204.82,637.76 L198.88,637.76 Z" fill="#8fc3ea" stroke="#1f78be" stroke-width="1.1"/>
<path d="M210.74,641.53 L213.71,646.92 L207.77,646.92 Z" fill="#8fc3ea" stroke="#1f78be" stroke-width="1.1"/>
<path d="M219.51,652.86 L222.48,658.25 L216.54,658.25 Z" fill="#8fc3ea" stroke="#1f78be" stroke-width="1.1"/>
<path d="M228.40,666.84 L231.37,672.22 L225.43,672.22 Z" fill="#8fc3ea" stroke="#1f78be" stroke-width="1.1"/>
<path d="M237.17,683.47 L240.14,688.85 L234.20,688.85 Z" fill="#8fc3ea" stroke="#1f78be" stroke-width="1.1"/>
<path d="M246.06,700.58 L249.03,705.96 L243.09,705.96 Z" fill="#8fc3ea" stroke="#1f78be" stroke-width="1.1"/>
<path d="M254.83,715.52 L257.80,720.90 L251.86,720.90 Z" fill="#8fc3ea" stroke="#1f78be" stroke-width="1.1"/>
<path d="M263.72,729.50 L266.69,734.88 L260.75,734.88 Z" fill="#8fc3ea" stroke="#1f78be" stroke-width="1.1"/>
<path d="M272.50,743.72 L275.47,749.10 L269.53,749.10 Z" fill="#8fc3ea" stroke="#1f78be" stroke-width="1.1"/>
<path d="M281.38,760.10 L284.35,765.49 L278.41,765.49 Z" fill="#8fc3ea" stroke="#1f78be" stroke-width="1.1"/>
<path d="M290.16,768.30 L293.13,773.68 L287.19,773.68 Z" fill="#8fc3ea" stroke="#1f78be" stroke-width="1.1"/>
<path d="M299.05,780.59 L302.02,785.98 L296.08,785.98 Z" fill="#8fc3ea" stroke="#1f78be" stroke-width="1.1"/>
<path d="M87.10,771.17 L104.76,744.66 L113.65,728.11 L122.42,712.06 L131.20,695.59 L140.09,679.46 L148.86,664.63 L157.75,652.30 L166.52,642.13 L175.41,636.21 L184.19,634.68 L193.07,634.79 L201.85,640.14 L210.74,648.52 L219.51,658.72 L228.40,671.21 L237.17,686.19 L246.06,701.82 L254.83,715.74 L263.72,729.11 L272.50,743.02 L281.38,759.25 L290.16,767.38 L299.05,779.64" fill="none" stroke="#1e9845" stroke-width="1.1"/>
<path d="M87.10,774.29 L90.07,768.91 L84.13,768.91 Z" fill="#72c28a" stroke="#1e9845" stroke-width="1.1"/>
<path d="M104.76,747.78 L107.73,742.40 L101.79,742.40 Z" fill="#72c28a" stroke="#1e9845" stroke-width="1.1"/>
<path d="M113.65,731.23 L116.62,725.85 L110.68,725.85 Z" fill="#72c28a" stroke="#1e9845" stroke-width="1.1"/>
<path d="M122.42,715.18 L125.39,709.79 L119.45,709.79 Z" fill="#72c28a" stroke="#1e9845" stroke-width="1.1"/>
<path d="M131.20,698.71 L134.17,693.32 L128.23,693.32 Z" fill="#72c28a" stroke="#1e9845" stroke-width="1.1"/>
<path d="M140.09,682.58 L143.06,677.19 L137.12,677.19 Z" fill="#72c28a" stroke="#1e9845" stroke-width="1.1"/>
<path d="M148.86,667.75 L151.83,662.37 L145.89,662.37 Z" fill="#72c28a" stroke="#1e9845" stroke-width="1.1"/>
<path d="M157.75,655.41 L160.72,650.03 L154.78,650.03 Z" fill="#72c28a" stroke="#1e9845" stroke-width="1.1"/>
<path d="M166.52,645.25 L169.49,639.86 L163.55,639.86 Z" fill="#72c28a" stroke="#1e9845" stroke-width="1.1"/>
<path d="M175.41,639.33 L178.38,633.94 L172.44,633.94 Z" fill="#72c28a" stroke="#1e9845" stroke-width="1.1"/>
<path d="M184.19,637.79 L187.16,632.41 L181.22,632.41 Z" fill="#72c28a" stroke="#1e9845" stroke-width="1.1"/>
<path d="M193.07,637.91 L196.04,632.52 L190.10,632.52 Z" fill="#72c28a" stroke="#1e9845" stroke-width="1.1"/>
<path d="M201.85,643.26 L204.82,637.87 L198.88,637.87 Z" fill="#72c28a" stroke="#1e9845" stroke-width="1.1"/>
<path d="M210.74,651.64 L213.71,646.25 L207.77,646.25 Z" fill="#72c28a" stroke="#1e9845" stroke-width="1.1"/>
<path d="M219.51,661.84 L222.48,656.46 L216.54,656.46 Z" fill="#72c28a" stroke="#1e9845" stroke-width="1.1"/>
<path d="M228.40,674.33 L231.37,668.94 L225.43,668.94 Z" fill="#72c28a" stroke="#1e9845" stroke-width="1.1"/>
<path d="M237.17,689.31 L240.14,683.92 L234.20,683.92 Z" fill="#72c28a" stroke="#1e9845" stroke-width="1.1"/>
<path d="M246.06,704.94 L249.03,699.56 L243.09,699.56 Z" fill="#72c28a" stroke="#1e9845" stroke-width="1.1"/>
<path d="M254.83,718.86 L257.80,713.47 L251.86,713.47 Z" fill="#72c28a" stroke="#1e9845" stroke-width="1.1"/>
<path d="M263.72,732.23 L266.69,726.84 L260.75,726.84 Z" fill="#72c28a" stroke="#1e9845" stroke-width="1.1"/>
<path d="M272.50,746.14 L275.47,740.75 L269.53,740.75 Z" fill="#72c28a" stroke="#1e9845" stroke-width="1.1"/>
<path d="M281.38,762.37 L284.35,756.99 L278.41,756.99 Z" fill="#72c28a" stroke="#1e9845" stroke-width="1.1"/>
<path d="M290.16,770.50 L293.13,765.11 L287.19,765.11 Z" fill="#72c28a" stroke="#1e9845" stroke-width="1.1"/>
<path d="M299.05,782.76 L302.02,777.37 L296.08,777.37 Z" fill="#72c28a" stroke="#1e9845" stroke-width="1.1"/>
<line x1="258.10" y1="589.40" x2="284.40" y2="589.40" stroke="#f6ad3c" stroke-width="1.3"/>
<rect x="268.55" y="586.70" width="5.40" height="5.40" fill="#f3d37e" stroke="#f6ad3c" stroke-width="1.1"/>
<text x="291.60" y="594.00" font-size="13.0" text-anchor="start" stroke="#231f20" stroke-width="0.22">0 bar</text>
<line x1="258.10" y1="604.90" x2="284.40" y2="604.90" stroke="#d35a5a" stroke-width="1.3"/>
<circle cx="271.25" cy="604.90" r="2.70" fill="#ec8f86" stroke="#cf4b4b" stroke-width="1.1"/>
<text x="291.60" y="609.50" font-size="13.0" text-anchor="start" stroke="#231f20" stroke-width="0.22">30 bar</text>
<line x1="258.10" y1="620.50" x2="284.40" y2="620.50" stroke="#1f78be" stroke-width="1.3"/>
<path d="M271.25,617.38 L274.22,622.77 L268.28,622.77 Z" fill="#8fc3ea" stroke="#1f78be" stroke-width="1.1"/>
<text x="291.60" y="625.10" font-size="13.0" text-anchor="start" stroke="#231f20" stroke-width="0.22">60 bar</text>
<line x1="258.10" y1="636.20" x2="284.40" y2="636.20" stroke="#1e9845" stroke-width="1.3"/>
<path d="M271.25,639.32 L274.22,633.93 L268.28,633.93 Z" fill="#72c28a" stroke="#1e9845" stroke-width="1.1"/>
<text x="291.60" y="640.80" font-size="13.0" text-anchor="start" stroke="#231f20" stroke-width="0.22">120 bar</text>
<rect x="399.60" y="572.50" width="284.60" height="228.80" fill="none" stroke="#231f20" stroke-width="1.25"/>
<line x1="394.60" y1="801.30" x2="399.60" y2="801.30" stroke="#231f20" stroke-width="1.1"/>
<text x="390.60" y="807.40" font-size="14.6" text-anchor="end" stroke="#231f20" stroke-width="0.22" textLength="18.6" lengthAdjust="spacingAndGlyphs">0.0</text>
<line x1="394.60" y1="755.54" x2="399.60" y2="755.54" stroke="#231f20" stroke-width="1.1"/>
<text x="390.60" y="761.64" font-size="14.6" text-anchor="end" stroke="#231f20" stroke-width="0.22" textLength="18.6" lengthAdjust="spacingAndGlyphs">0.2</text>
<line x1="394.60" y1="709.78" x2="399.60" y2="709.78" stroke="#231f20" stroke-width="1.1"/>
<text x="390.60" y="715.88" font-size="14.6" text-anchor="end" stroke="#231f20" stroke-width="0.22" textLength="18.6" lengthAdjust="spacingAndGlyphs">0.4</text>
<line x1="394.60" y1="664.02" x2="399.60" y2="664.02" stroke="#231f20" stroke-width="1.1"/>
<text x="390.60" y="670.12" font-size="14.6" text-anchor="end" stroke="#231f20" stroke-width="0.22" textLength="18.6" lengthAdjust="spacingAndGlyphs">0.6</text>
<line x1="394.60" y1="618.26" x2="399.60" y2="618.26" stroke="#231f20" stroke-width="1.1"/>
<text x="390.60" y="624.36" font-size="14.6" text-anchor="end" stroke="#231f20" stroke-width="0.22" textLength="18.6" lengthAdjust="spacingAndGlyphs">0.8</text>
<line x1="394.60" y1="572.50" x2="399.60" y2="572.50" stroke="#231f20" stroke-width="1.1"/>
<text x="390.60" y="578.60" font-size="14.6" text-anchor="end" stroke="#231f20" stroke-width="0.22" textLength="18.6" lengthAdjust="spacingAndGlyphs">1.0</text>
<line x1="397.00" y1="778.42" x2="399.60" y2="778.42" stroke="#231f20" stroke-width="1.1"/>
<line x1="397.00" y1="732.66" x2="399.60" y2="732.66" stroke="#231f20" stroke-width="1.1"/>
<line x1="397.00" y1="686.90" x2="399.60" y2="686.90" stroke="#231f20" stroke-width="1.1"/>
<line x1="397.00" y1="641.14" x2="399.60" y2="641.14" stroke="#231f20" stroke-width="1.1"/>
<line x1="397.00" y1="595.38" x2="399.60" y2="595.38" stroke="#231f20" stroke-width="1.1"/>
<line x1="413.00" y1="801.30" x2="413.00" y2="805.90" stroke="#231f20" stroke-width="1.1"/>
<text x="412.00" y="822.50" font-size="14.6" text-anchor="middle" stroke="#231f20" stroke-width="0.22" textLength="18.8" lengthAdjust="spacingAndGlyphs">0.0</text>
<line x1="477.80" y1="801.30" x2="477.80" y2="805.90" stroke="#231f20" stroke-width="1.1"/>
<text x="476.80" y="822.50" font-size="14.6" text-anchor="middle" stroke="#231f20" stroke-width="0.22" textLength="18.8" lengthAdjust="spacingAndGlyphs">0.5</text>
<line x1="542.60" y1="801.30" x2="542.60" y2="805.90" stroke="#231f20" stroke-width="1.1"/>
<text x="541.60" y="822.50" font-size="14.6" text-anchor="middle" stroke="#231f20" stroke-width="0.22" textLength="18.8" lengthAdjust="spacingAndGlyphs">1.0</text>
<line x1="607.40" y1="801.30" x2="607.40" y2="805.90" stroke="#231f20" stroke-width="1.1"/>
<text x="606.40" y="822.50" font-size="14.6" text-anchor="middle" stroke="#231f20" stroke-width="0.22" textLength="18.8" lengthAdjust="spacingAndGlyphs">1.5</text>
<line x1="672.20" y1="801.30" x2="672.20" y2="805.90" stroke="#231f20" stroke-width="1.1"/>
<text x="671.20" y="822.50" font-size="14.6" text-anchor="middle" stroke="#231f20" stroke-width="0.22" textLength="18.8" lengthAdjust="spacingAndGlyphs">2.0</text>
<line x1="445.40" y1="801.30" x2="445.40" y2="803.90" stroke="#231f20" stroke-width="1.1"/>
<line x1="510.20" y1="801.30" x2="510.20" y2="803.90" stroke="#231f20" stroke-width="1.1"/>
<line x1="575.00" y1="801.30" x2="575.00" y2="803.90" stroke="#231f20" stroke-width="1.1"/>
<line x1="639.80" y1="801.30" x2="639.80" y2="803.90" stroke="#231f20" stroke-width="1.1"/>
<text x="540.00" y="844.40" font-size="14.7" text-anchor="middle" stroke="#231f20" stroke-width="0.22" textLength="99" lengthAdjust="spacingAndGlyphs">Diameter (μm)</text>
<text x="363.30" y="687.30" font-size="14.7" text-anchor="middle" stroke="#231f20" stroke-width="0.22" textLength="110" lengthAdjust="spacingAndGlyphs" transform="rotate(-90 363.30 687.30)">Normalized PSD</text>
<text x="542.80" y="595.30" font-size="19.2" text-anchor="middle" stroke="#231f20" stroke-width="0.22" font-style="italic" textLength="41.5" lengthAdjust="spacingAndGlyphs">i-TFX</text>
<path d="M413.00,755.77 L452.14,731.21 L461.99,716.47 L471.97,700.72 L482.08,684.60 L492.06,668.32 L502.16,654.15 L512.27,640.34 L522.25,630.23 L532.36,622.83 L542.34,619.91 L552.58,620.62 L562.82,627.70 L573.06,638.08 L582.78,648.40 L592.88,663.73 L602.86,680.88 L613.36,698.77 L622.82,713.69 L633.06,728.11 L643.17,742.07 L653.28,756.82 L663.52,765.11 L672.98,775.66" fill="none" stroke="#f6ad3c" stroke-width="1.1"/>
<rect x="410.30" y="753.07" width="5.40" height="5.40" fill="#f3d37e" stroke="#f6ad3c" stroke-width="1.1"/>
<rect x="449.44" y="728.51" width="5.40" height="5.40" fill="#f3d37e" stroke="#f6ad3c" stroke-width="1.1"/>
<rect x="459.29" y="713.77" width="5.40" height="5.40" fill="#f3d37e" stroke="#f6ad3c" stroke-width="1.1"/>
<rect x="469.27" y="698.02" width="5.40" height="5.40" fill="#f3d37e" stroke="#f6ad3c" stroke-width="1.1"/>
<rect x="479.38" y="681.90" width="5.40" height="5.40" fill="#f3d37e" stroke="#f6ad3c" stroke-width="1.1"/>
<rect x="489.36" y="665.62" width="5.40" height="5.40" fill="#f3d37e" stroke="#f6ad3c" stroke-width="1.1"/>
<rect x="499.46" y="651.45" width="5.40" height="5.40" fill="#f3d37e" stroke="#f6ad3c" stroke-width="1.1"/>
<rect x="509.57" y="637.64" width="5.40" height="5.40" fill="#f3d37e" stroke="#f6ad3c" stroke-width="1.1"/>
<rect x="519.55" y="627.53" width="5.40" height="5.40" fill="#f3d37e" stroke="#f6ad3c" stroke-width="1.1"/>
<rect x="529.66" y="620.13" width="5.40" height="5.40" fill="#f3d37e" stroke="#f6ad3c" stroke-width="1.1"/>
<rect x="539.64" y="617.21" width="5.40" height="5.40" fill="#f3d37e" stroke="#f6ad3c" stroke-width="1.1"/>
<rect x="549.88" y="617.92" width="5.40" height="5.40" fill="#f3d37e" stroke="#f6ad3c" stroke-width="1.1"/>
<rect x="560.12" y="625.00" width="5.40" height="5.40" fill="#f3d37e" stroke="#f6ad3c" stroke-width="1.1"/>
<rect x="570.36" y="635.38" width="5.40" height="5.40" fill="#f3d37e" stroke="#f6ad3c" stroke-width="1.1"/>
<rect x="580.08" y="645.70" width="5.40" height="5.40" fill="#f3d37e" stroke="#f6ad3c" stroke-width="1.1"/>
<rect x="590.18" y="661.03" width="5.40" height="5.40" fill="#f3d37e" stroke="#f6ad3c" stroke-width="1.1"/>
<rect x="600.16" y="678.18" width="5.40" height="5.40" fill="#f3d37e" stroke="#f6ad3c" stroke-width="1.1"/>
<rect x="610.66" y="696.07" width="5.40" height="5.40" fill="#f3d37e" stroke="#f6ad3c" stroke-width="1.1"/>
<rect x="620.12" y="710.99" width="5.40" height="5.40" fill="#f3d37e" stroke="#f6ad3c" stroke-width="1.1"/>
<rect x="630.36" y="725.41" width="5.40" height="5.40" fill="#f3d37e" stroke="#f6ad3c" stroke-width="1.1"/>
<rect x="640.47" y="739.37" width="5.40" height="5.40" fill="#f3d37e" stroke="#f6ad3c" stroke-width="1.1"/>
<rect x="650.58" y="754.12" width="5.40" height="5.40" fill="#f3d37e" stroke="#f6ad3c" stroke-width="1.1"/>
<rect x="660.82" y="762.41" width="5.40" height="5.40" fill="#f3d37e" stroke="#f6ad3c" stroke-width="1.1"/>
<rect x="670.28" y="772.96" width="5.40" height="5.40" fill="#f3d37e" stroke="#f6ad3c" stroke-width="1.1"/>
<path d="M413.00,758.06 L452.14,733.65 L461.99,719.11 L471.97,703.74 L482.08,688.28 L492.06,672.99 L502.16,660.16 L512.27,647.89 L522.25,639.24 L532.36,632.92 L542.34,630.38 L552.58,630.63 L562.82,636.46 L573.06,645.04 L582.78,653.36 L592.88,666.51 L602.86,681.62 L613.36,697.81 L622.82,711.70 L633.06,725.49 L643.17,739.13 L653.28,753.74 L663.52,761.96 L672.98,772.48" fill="none" stroke="#d35a5a" stroke-width="1.1"/>
<circle cx="413.00" cy="758.06" r="2.70" fill="#ec8f86" stroke="#cf4b4b" stroke-width="1.1"/>
<circle cx="452.14" cy="733.65" r="2.70" fill="#ec8f86" stroke="#cf4b4b" stroke-width="1.1"/>
<circle cx="461.99" cy="719.11" r="2.70" fill="#ec8f86" stroke="#cf4b4b" stroke-width="1.1"/>
<circle cx="471.97" cy="703.74" r="2.70" fill="#ec8f86" stroke="#cf4b4b" stroke-width="1.1"/>
<circle cx="482.08" cy="688.28" r="2.70" fill="#ec8f86" stroke="#cf4b4b" stroke-width="1.1"/>
<circle cx="492.06" cy="672.99" r="2.70" fill="#ec8f86" stroke="#cf4b4b" stroke-width="1.1"/>
<circle cx="502.16" cy="660.16" r="2.70" fill="#ec8f86" stroke="#cf4b4b" stroke-width="1.1"/>
<circle cx="512.27" cy="647.89" r="2.70" fill="#ec8f86" stroke="#cf4b4b" stroke-width="1.1"/>
<circle cx="522.25" cy="639.24" r="2.70" fill="#ec8f86" stroke="#cf4b4b" stroke-width="1.1"/>
<circle cx="532.36" cy="632.92" r="2.70" fill="#ec8f86" stroke="#cf4b4b" stroke-width="1.1"/>
<circle cx="542.34" cy="630.38" r="2.70" fill="#ec8f86" stroke="#cf4b4b" stroke-width="1.1"/>
<circle cx="552.58" cy="630.63" r="2.70" fill="#ec8f86" stroke="#cf4b4b" stroke-width="1.1"/>
<circle cx="562.82" cy="636.46" r="2.70" fill="#ec8f86" stroke="#cf4b4b" stroke-width="1.1"/>
<circle cx="573.06" cy="645.04" r="2.70" fill="#ec8f86" stroke="#cf4b4b" stroke-width="1.1"/>
<circle cx="582.78" cy="653.36" r="2.70" fill="#ec8f86" stroke="#cf4b4b" stroke-width="1.1"/>
<circle cx="592.88" cy="666.51" r="2.70" fill="#ec8f86" stroke="#cf4b4b" stroke-width="1.1"/>
<circle cx="602.86" cy="681.62" r="2.70" fill="#ec8f86" stroke="#cf4b4b" stroke-width="1.1"/>
<circle cx="613.36" cy="697.81" r="2.70" fill="#ec8f86" stroke="#cf4b4b" stroke-width="1.1"/>
<circle cx="622.82" cy="711.70" r="2.70" fill="#ec8f86" stroke="#cf4b4b" stroke-width="1.1"/>
<circle cx="633.06" cy="725.49" r="2.70" fill="#ec8f86" stroke="#cf4b4b" stroke-width="1.1"/>
<circle cx="643.17" cy="739.13" r="2.70" fill="#ec8f86" stroke="#cf4b4b" stroke-width="1.1"/>
<circle cx="653.28" cy="753.74" r="2.70" fill="#ec8f86" stroke="#cf4b4b" stroke-width="1.1"/>
<circle cx="663.52" cy="761.96" r="2.70" fill="#ec8f86" stroke="#cf4b4b" stroke-width="1.1"/>
<circle cx="672.98" cy="772.48" r="2.70" fill="#ec8f86" stroke="#cf4b4b" stroke-width="1.1"/>
<path d="M413.00,757.14 L452.14,732.66 L461.99,718.02 L471.97,702.46 L482.08,686.67 L492.06,670.88 L502.16,657.38 L512.27,644.34 L522.25,634.96 L532.36,628.10 L542.34,625.35 L552.58,625.81 L562.82,632.22 L573.06,641.60 L582.78,650.75 L592.88,664.71 L602.86,680.49 L613.36,697.20 L622.82,711.38 L633.06,725.34 L643.17,739.07 L653.28,753.71 L663.52,761.95 L672.98,772.47" fill="none" stroke="#1f78be" stroke-width="1.1"/>
<path d="M413.00,754.02 L415.97,759.41 L410.03,759.41 Z" fill="#8fc3ea" stroke="#1f78be" stroke-width="1.1"/>
<path d="M452.14,729.54 L455.11,734.93 L449.17,734.93 Z" fill="#8fc3ea" stroke="#1f78be" stroke-width="1.1"/>
<path d="M461.99,714.90 L464.96,720.28 L459.02,720.28 Z" fill="#8fc3ea" stroke="#1f78be" stroke-width="1.1"/>
<path d="M471.97,699.34 L474.94,704.73 L469.00,704.73 Z" fill="#8fc3ea" stroke="#1f78be" stroke-width="1.1"/>
<path d="M482.08,683.55 L485.05,688.94 L479.11,688.94 Z" fill="#8fc3ea" stroke="#1f78be" stroke-width="1.1"/>
<path d="M492.06,667.77 L495.03,673.15 L489.09,673.15 Z" fill="#8fc3ea" stroke="#1f78be" stroke-width="1.1"/>
<path d="M502.16,654.27 L505.13,659.65 L499.19,659.65 Z" fill="#8fc3ea" stroke="#1f78be" stroke-width="1.1"/>
<path d="M512.27,641.22 L515.24,646.61 L509.30,646.61 Z" fill="#8fc3ea" stroke="#1f78be" stroke-width="1.1"/>
<path d="M522.25,631.84 L525.22,637.23 L519.28,637.23 Z" fill="#8fc3ea" stroke="#1f78be" stroke-width="1.1"/>
<path d="M532.36,624.98 L535.33,630.37 L529.39,630.37 Z" fill="#8fc3ea" stroke="#1f78be" stroke-width="1.1"/>
<path d="M542.34,622.23 L545.31,627.62 L539.37,627.62 Z" fill="#8fc3ea" stroke="#1f78be" stroke-width="1.1"/>
<path d="M552.58,622.69 L555.55,628.08 L549.61,628.08 Z" fill="#8fc3ea" stroke="#1f78be" stroke-width="1.1"/>
<path d="M562.82,629.10 L565.79,634.48 L559.85,634.48 Z" fill="#8fc3ea" stroke="#1f78be" stroke-width="1.1"/>
<path d="M573.06,638.48 L576.03,643.87 L570.09,643.87 Z" fill="#8fc3ea" stroke="#1f78be" stroke-width="1.1"/>
<path d="M582.78,647.63 L585.75,653.02 L579.81,653.02 Z" fill="#8fc3ea" stroke="#1f78be" stroke-width="1.1"/>
<path d="M592.88,661.59 L595.85,666.97 L589.91,666.97 Z" fill="#8fc3ea" stroke="#1f78be" stroke-width="1.1"/>
<path d="M602.86,677.38 L605.83,682.76 L599.89,682.76 Z" fill="#8fc3ea" stroke="#1f78be" stroke-width="1.1"/>
<path d="M613.36,694.08 L616.33,699.46 L610.39,699.46 Z" fill="#8fc3ea" stroke="#1f78be" stroke-width="1.1"/>
<path d="M622.82,708.26 L625.79,713.65 L619.85,713.65 Z" fill="#8fc3ea" stroke="#1f78be" stroke-width="1.1"/>
<path d="M633.06,722.22 L636.03,727.61 L630.09,727.61 Z" fill="#8fc3ea" stroke="#1f78be" stroke-width="1.1"/>
<path d="M643.17,735.95 L646.14,741.33 L640.20,741.33 Z" fill="#8fc3ea" stroke="#1f78be" stroke-width="1.1"/>
<path d="M653.28,750.59 L656.25,755.98 L650.31,755.98 Z" fill="#8fc3ea" stroke="#1f78be" stroke-width="1.1"/>
<path d="M663.52,758.83 L666.49,764.21 L660.55,764.21 Z" fill="#8fc3ea" stroke="#1f78be" stroke-width="1.1"/>
<path d="M672.98,769.35 L675.95,774.74 L670.01,774.74 Z" fill="#8fc3ea" stroke="#1f78be" stroke-width="1.1"/>
<path d="M413.00,760.57 L452.14,736.55 L461.99,720.86 L471.97,705.41 L482.08,689.80 L492.06,674.29 L502.16,661.16 L512.27,648.55 L522.25,639.56 L532.36,632.99 L542.34,630.31 L552.58,630.58 L562.82,636.51 L573.06,645.11 L582.78,653.23 L592.88,665.80 L602.86,680.06 L613.36,695.34 L622.82,708.63 L633.06,722.00 L643.17,735.44 L653.28,749.94 L663.52,758.11 L672.98,768.61" fill="none" stroke="#1e9845" stroke-width="1.1"/>
<path d="M413.00,763.69 L415.97,758.31 L410.03,758.31 Z" fill="#72c28a" stroke="#1e9845" stroke-width="1.1"/>
<path d="M452.14,739.67 L455.11,734.28 L449.17,734.28 Z" fill="#72c28a" stroke="#1e9845" stroke-width="1.1"/>
<path d="M461.99,723.98 L464.96,718.59 L459.02,718.59 Z" fill="#72c28a" stroke="#1e9845" stroke-width="1.1"/>
<path d="M471.97,708.52 L474.94,703.14 L469.00,703.14 Z" fill="#72c28a" stroke="#1e9845" stroke-width="1.1"/>
<path d="M482.08,692.92 L485.05,687.53 L479.11,687.53 Z" fill="#72c28a" stroke="#1e9845" stroke-width="1.1"/>
<path d="M492.06,677.41 L495.03,672.02 L489.09,672.02 Z" fill="#72c28a" stroke="#1e9845" stroke-width="1.1"/>
<path d="M502.16,664.28 L505.13,658.89 L499.19,658.89 Z" fill="#72c28a" stroke="#1e9845" stroke-width="1.1"/>
<path d="M512.27,651.66 L515.24,646.28 L509.30,646.28 Z" fill="#72c28a" stroke="#1e9845" stroke-width="1.1"/>
<path d="M522.25,642.68 L525.22,637.30 L519.28,637.30 Z" fill="#72c28a" stroke="#1e9845" stroke-width="1.1"/>
<path d="M532.36,636.10 L535.33,630.72 L529.39,630.72 Z" fill="#72c28a" stroke="#1e9845" stroke-width="1.1"/>
<path d="M542.34,633.43 L545.31,628.05 L539.37,628.05 Z" fill="#72c28a" stroke="#1e9845" stroke-width="1.1"/>
<path d="M552.58,633.70 L555.55,628.31 L549.61,628.31 Z" fill="#72c28a" stroke="#1e9845" stroke-width="1.1"/>
<path d="M562.82,639.62 L565.79,634.24 L559.85,634.24 Z" fill="#72c28a" stroke="#1e9845" stroke-width="1.1"/>
<path d="M573.06,648.23 L576.03,642.84 L570.09,642.84 Z" fill="#72c28a" stroke="#1e9845" stroke-width="1.1"/>
<path d="M582.78,656.35 L585.75,650.96 L579.81,650.96 Z" fill="#72c28a" stroke="#1e9845" stroke-width="1.1"/>
<path d="M592.88,668.92 L595.85,663.53 L589.91,663.53 Z" fill="#72c28a" stroke="#1e9845" stroke-width="1.1"/>
<path d="M602.86,683.18 L605.83,677.80 L599.89,677.80 Z" fill="#72c28a" stroke="#1e9845" stroke-width="1.1"/>
<path d="M613.36,698.46 L616.33,693.08 L610.39,693.08 Z" fill="#72c28a" stroke="#1e9845" stroke-width="1.1"/>
<path d="M622.82,711.74 L625.79,706.36 L619.85,706.36 Z" fill="#72c28a" stroke="#1e9845" stroke-width="1.1"/>
<path d="M633.06,725.12 L636.03,719.74 L630.09,719.74 Z" fill="#72c28a" stroke="#1e9845" stroke-width="1.1"/>
<path d="M643.17,738.56 L646.14,733.17 L640.20,733.17 Z" fill="#72c28a" stroke="#1e9845" stroke-width="1.1"/>
<path d="M653.28,753.06 L656.25,747.67 L650.31,747.67 Z" fill="#72c28a" stroke="#1e9845" stroke-width="1.1"/>
<path d="M663.52,761.23 L666.49,755.84 L660.55,755.84 Z" fill="#72c28a" stroke="#1e9845" stroke-width="1.1"/>
<path d="M672.98,771.73 L675.95,766.34 L670.01,766.34 Z" fill="#72c28a" stroke="#1e9845" stroke-width="1.1"/>
<line x1="595.30" y1="590.40" x2="621.60" y2="590.40" stroke="#f6ad3c" stroke-width="1.3"/>
<rect x="605.75" y="587.70" width="5.40" height="5.40" fill="#f3d37e" stroke="#f6ad3c" stroke-width="1.1"/>
<text x="628.60" y="595.00" font-size="13.0" text-anchor="start" stroke="#231f20" stroke-width="0.22">0 bar</text>
<line x1="595.30" y1="605.90" x2="621.60" y2="605.90" stroke="#d35a5a" stroke-width="1.3"/>
<circle cx="608.45" cy="605.90" r="2.70" fill="#ec8f86" stroke="#cf4b4b" stroke-width="1.1"/>
<text x="628.60" y="610.50" font-size="13.0" text-anchor="start" stroke="#231f20" stroke-width="0.22">30 bar</text>
<line x1="595.30" y1="621.30" x2="621.60" y2="621.30" stroke="#1f78be" stroke-width="1.3"/>
<path d="M608.45,618.18 L611.42,623.57 L605.48,623.57 Z" fill="#8fc3ea" stroke="#1f78be" stroke-width="1.1"/>
<text x="628.60" y="625.90" font-size="13.0" text-anchor="start" stroke="#231f20" stroke-width="0.22">60 bar</text>
<line x1="595.30" y1="636.90" x2="621.60" y2="636.90" stroke="#1e9845" stroke-width="1.3"/>
<path d="M608.45,640.02 L611.42,634.63 L605.48,634.63 Z" fill="#72c28a" stroke="#1e9845" stroke-width="1.1"/>
<text x="628.60" y="641.50" font-size="13.0" text-anchor="start" stroke="#231f20" stroke-width="0.22">120 bar</text>
<rect x="56.90" y="873.30" width="284.00" height="228.50" fill="none" stroke="#231f20" stroke-width="1.25"/>
<line x1="51.90" y1="1084.70" x2="56.90" y2="1084.70" stroke="#231f20" stroke-width="1.1"/>
<text x="48.70" y="1090.80" font-size="14.6" text-anchor="end" stroke="#231f20" stroke-width="0.22" textLength="26.2" lengthAdjust="spacingAndGlyphs">0.00</text>
<line x1="51.90" y1="1049.45" x2="56.90" y2="1049.45" stroke="#231f20" stroke-width="1.1"/>
<text x="48.70" y="1055.55" font-size="14.6" text-anchor="end" stroke="#231f20" stroke-width="0.22" textLength="26.2" lengthAdjust="spacingAndGlyphs">0.05</text>
<line x1="51.90" y1="1014.20" x2="56.90" y2="1014.20" stroke="#231f20" stroke-width="1.1"/>
<text x="48.70" y="1020.30" font-size="14.6" text-anchor="end" stroke="#231f20" stroke-width="0.22" textLength="26.2" lengthAdjust="spacingAndGlyphs">0.10</text>
<line x1="51.90" y1="978.95" x2="56.90" y2="978.95" stroke="#231f20" stroke-width="1.1"/>
<text x="48.70" y="985.05" font-size="14.6" text-anchor="end" stroke="#231f20" stroke-width="0.22" textLength="26.2" lengthAdjust="spacingAndGlyphs">0.15</text>
<line x1="51.90" y1="943.70" x2="56.90" y2="943.70" stroke="#231f20" stroke-width="1.1"/>
<text x="48.70" y="949.80" font-size="14.6" text-anchor="end" stroke="#231f20" stroke-width="0.22" textLength="26.2" lengthAdjust="spacingAndGlyphs">0.20</text>
<line x1="51.90" y1="908.45" x2="56.90" y2="908.45" stroke="#231f20" stroke-width="1.1"/>
<text x="48.70" y="914.55" font-size="14.6" text-anchor="end" stroke="#231f20" stroke-width="0.22" textLength="26.2" lengthAdjust="spacingAndGlyphs">0.25</text>
<line x1="51.90" y1="873.20" x2="56.90" y2="873.20" stroke="#231f20" stroke-width="1.1"/>
<text x="48.70" y="879.30" font-size="14.6" text-anchor="end" stroke="#231f20" stroke-width="0.22" textLength="26.2" lengthAdjust="spacingAndGlyphs">0.30</text>
<line x1="54.30" y1="1067.08" x2="56.90" y2="1067.08" stroke="#231f20" stroke-width="1.1"/>
<line x1="54.30" y1="1031.83" x2="56.90" y2="1031.83" stroke="#231f20" stroke-width="1.1"/>
<line x1="54.30" y1="996.58" x2="56.90" y2="996.58" stroke="#231f20" stroke-width="1.1"/>
<line x1="54.30" y1="961.33" x2="56.90" y2="961.33" stroke="#231f20" stroke-width="1.1"/>
<line x1="54.30" y1="926.08" x2="56.90" y2="926.08" stroke="#231f20" stroke-width="1.1"/>
<line x1="54.30" y1="890.83" x2="56.90" y2="890.83" stroke="#231f20" stroke-width="1.1"/>
<line x1="54.30" y1="1102.33" x2="56.90" y2="1102.33" stroke="#231f20" stroke-width="1.1"/>
<line x1="66.60" y1="1101.80" x2="66.60" y2="1106.40" stroke="#231f20" stroke-width="1.1"/>
<text x="66.60" y="1122.80" font-size="14.6" text-anchor="middle" stroke="#231f20" stroke-width="0.22">0</text>
<line x1="105.78" y1="1101.80" x2="105.78" y2="1106.40" stroke="#231f20" stroke-width="1.1"/>
<text x="105.78" y="1122.80" font-size="14.6" text-anchor="middle" stroke="#231f20" stroke-width="0.22">2</text>
<line x1="144.96" y1="1101.80" x2="144.96" y2="1106.40" stroke="#231f20" stroke-width="1.1"/>
<text x="144.96" y="1122.80" font-size="14.6" text-anchor="middle" stroke="#231f20" stroke-width="0.22">4</text>
<line x1="184.14" y1="1101.80" x2="184.14" y2="1106.40" stroke="#231f20" stroke-width="1.1"/>
<text x="184.14" y="1122.80" font-size="14.6" text-anchor="middle" stroke="#231f20" stroke-width="0.22">6</text>
<line x1="223.32" y1="1101.80" x2="223.32" y2="1106.40" stroke="#231f20" stroke-width="1.1"/>
<text x="223.32" y="1122.80" font-size="14.6" text-anchor="middle" stroke="#231f20" stroke-width="0.22">8</text>
<line x1="262.50" y1="1101.80" x2="262.50" y2="1106.40" stroke="#231f20" stroke-width="1.1"/>
<text x="263.70" y="1122.80" font-size="14.6" text-anchor="middle" stroke="#231f20" stroke-width="0.22">10</text>
<line x1="301.68" y1="1101.80" x2="301.68" y2="1106.40" stroke="#231f20" stroke-width="1.1"/>
<text x="302.88" y="1122.80" font-size="14.6" text-anchor="middle" stroke="#231f20" stroke-width="0.22">12</text>
<line x1="340.86" y1="1101.80" x2="340.86" y2="1106.40" stroke="#231f20" stroke-width="1.1"/>
<text x="342.06" y="1122.80" font-size="14.6" text-anchor="middle" stroke="#231f20" stroke-width="0.22">14</text>
<line x1="86.19" y1="1101.80" x2="86.19" y2="1104.40" stroke="#231f20" stroke-width="1.1"/>
<line x1="125.37" y1="1101.80" x2="125.37" y2="1104.40" stroke="#231f20" stroke-width="1.1"/>
<line x1="164.55" y1="1101.80" x2="164.55" y2="1104.40" stroke="#231f20" stroke-width="1.1"/>
<line x1="203.73" y1="1101.80" x2="203.73" y2="1104.40" stroke="#231f20" stroke-width="1.1"/>
<line x1="242.91" y1="1101.80" x2="242.91" y2="1104.40" stroke="#231f20" stroke-width="1.1"/>
<line x1="282.09" y1="1101.80" x2="282.09" y2="1104.40" stroke="#231f20" stroke-width="1.1"/>
<line x1="321.27" y1="1101.80" x2="321.27" y2="1104.40" stroke="#231f20" stroke-width="1.1"/>
<text x="197.00" y="1145.50" font-size="14.7" text-anchor="middle" stroke="#231f20" stroke-width="0.22" textLength="99" lengthAdjust="spacingAndGlyphs">Diameter (μm)</text>
<text x="11.90" y="988.50" font-size="14.7" text-anchor="middle" stroke="#231f20" stroke-width="0.22" textLength="109.6" lengthAdjust="spacingAndGlyphs" transform="rotate(-90 11.90 988.50)">Normalized PSD</text>
<text x="190.80" y="898.30" font-size="19" text-anchor="middle" stroke="#231f20" stroke-width="0.22" textLength="49" lengthAdjust="spacingAndGlyphs">HPRO</text>
<path d="M66.60,1042.40 L73.46,1036.06 L76.84,1033.67 L80.22,1031.28 L83.59,1028.89 L86.97,1026.28 L90.35,1023.60 L93.73,1020.92 L97.11,1018.38 L100.49,1016.12 L103.87,1013.87 L107.25,1011.61 L110.63,1009.49 L114.01,1007.75 L117.39,1006.02 L120.77,1004.28 L124.15,1002.72 L127.52,1001.82 L130.90,1000.91 L134.28,1000.00 L137.66,999.34 L141.04,999.18 L144.42,999.11 L150.84,1000.10 L157.50,1001.79 L175.52,1009.27 L179.24,1011.80 L189.82,1019.28 L225.08,1047.12 L249.37,1062.99 L266.81,1071.38 L284.64,1076.94 L319.70,1083.08" fill="none" stroke="#f6ad3c" stroke-width="1.1"/>
<rect x="63.90" y="1039.70" width="5.40" height="5.40" fill="#f3d37e" stroke="#f6ad3c" stroke-width="1.1"/>
<rect x="70.76" y="1033.36" width="5.40" height="5.40" fill="#f3d37e" stroke="#f6ad3c" stroke-width="1.1"/>
<rect x="74.14" y="1030.97" width="5.40" height="5.40" fill="#f3d37e" stroke="#f6ad3c" stroke-width="1.1"/>
<rect x="77.52" y="1028.58" width="5.40" height="5.40" fill="#f3d37e" stroke="#f6ad3c" stroke-width="1.1"/>
<rect x="80.89" y="1026.19" width="5.40" height="5.40" fill="#f3d37e" stroke="#f6ad3c" stroke-width="1.1"/>
<rect x="84.27" y="1023.58" width="5.40" height="5.40" fill="#f3d37e" stroke="#f6ad3c" stroke-width="1.1"/>
<rect x="87.65" y="1020.90" width="5.40" height="5.40" fill="#f3d37e" stroke="#f6ad3c" stroke-width="1.1"/>
<rect x="91.03" y="1018.22" width="5.40" height="5.40" fill="#f3d37e" stroke="#f6ad3c" stroke-width="1.1"/>
<rect x="94.41" y="1015.68" width="5.40" height="5.40" fill="#f3d37e" stroke="#f6ad3c" stroke-width="1.1"/>
<rect x="97.79" y="1013.42" width="5.40" height="5.40" fill="#f3d37e" stroke="#f6ad3c" stroke-width="1.1"/>
<rect x="101.17" y="1011.17" width="5.40" height="5.40" fill="#f3d37e" stroke="#f6ad3c" stroke-width="1.1"/>
<rect x="104.55" y="1008.91" width="5.40" height="5.40" fill="#f3d37e" stroke="#f6ad3c" stroke-width="1.1"/>
<rect x="107.93" y="1006.79" width="5.40" height="5.40" fill="#f3d37e" stroke="#f6ad3c" stroke-width="1.1"/>
<rect x="111.31" y="1005.05" width="5.40" height="5.40" fill="#f3d37e" stroke="#f6ad3c" stroke-width="1.1"/>
<rect x="114.69" y="1003.32" width="5.40" height="5.40" fill="#f3d37e" stroke="#f6ad3c" stroke-width="1.1"/>
<rect x="118.07" y="1001.58" width="5.40" height="5.40" fill="#f3d37e" stroke="#f6ad3c" stroke-width="1.1"/>
<rect x="121.45" y="1000.02" width="5.40" height="5.40" fill="#f3d37e" stroke="#f6ad3c" stroke-width="1.1"/>
<rect x="124.82" y="999.12" width="5.40" height="5.40" fill="#f3d37e" stroke="#f6ad3c" stroke-width="1.1"/>
<rect x="128.20" y="998.21" width="5.40" height="5.40" fill="#f3d37e" stroke="#f6ad3c" stroke-width="1.1"/>
<rect x="131.58" y="997.30" width="5.40" height="5.40" fill="#f3d37e" stroke="#f6ad3c" stroke-width="1.1"/>
<rect x="134.96" y="996.64" width="5.40" height="5.40" fill="#f3d37e" stroke="#f6ad3c" stroke-width="1.1"/>
<rect x="138.34" y="996.48" width="5.40" height="5.40" fill="#f3d37e" stroke="#f6ad3c" stroke-width="1.1"/>
<rect x="141.72" y="996.41" width="5.40" height="5.40" fill="#f3d37e" stroke="#f6ad3c" stroke-width="1.1"/>
<rect x="148.14" y="997.40" width="5.40" height="5.40" fill="#f3d37e" stroke="#f6ad3c" stroke-width="1.1"/>
<rect x="154.80" y="999.09" width="5.40" height="5.40" fill="#f3d37e" stroke="#f6ad3c" stroke-width="1.1"/>
<rect x="172.82" y="1006.57" width="5.40" height="5.40" fill="#f3d37e" stroke="#f6ad3c" stroke-width="1.1"/>
<rect x="176.54" y="1009.10" width="5.40" height="5.40" fill="#f3d37e" stroke="#f6ad3c" stroke-width="1.1"/>
<rect x="187.12" y="1016.58" width="5.40" height="5.40" fill="#f3d37e" stroke="#f6ad3c" stroke-width="1.1"/>
<rect x="222.38" y="1044.42" width="5.40" height="5.40" fill="#f3d37e" stroke="#f6ad3c" stroke-width="1.1"/>
<rect x="246.67" y="1060.29" width="5.40" height="5.40" fill="#f3d37e" stroke="#f6ad3c" stroke-width="1.1"/>
<rect x="264.11" y="1068.68" width="5.40" height="5.40" fill="#f3d37e" stroke="#f6ad3c" stroke-width="1.1"/>
<rect x="281.94" y="1074.24" width="5.40" height="5.40" fill="#f3d37e" stroke="#f6ad3c" stroke-width="1.1"/>
<rect x="317.00" y="1080.38" width="5.40" height="5.40" fill="#f3d37e" stroke="#f6ad3c" stroke-width="1.1"/>
<path d="M66.60,1035.63 L73.46,1028.30 L76.84,1024.58 L80.22,1020.87 L83.59,1017.15 L86.97,1013.44 L90.35,1009.75 L93.73,1006.06 L97.11,1002.79 L100.49,999.61 L103.87,996.82 L107.25,994.19 L110.63,991.84 L114.01,989.69 L117.39,987.94 L120.77,986.47 L124.15,985.17 L127.52,983.96 L141.43,985.01 L157.50,993.90 L161.22,996.58 L169.45,1003.27 L189.82,1025.97 L207.26,1045.08 L221.36,1057.49 L232.14,1064.96 L292.08,1083.29" fill="none" stroke="#d35a5a" stroke-width="1.1"/>
<circle cx="66.60" cy="1035.63" r="2.70" fill="#ec8f86" stroke="#cf4b4b" stroke-width="1.1"/>
<circle cx="73.46" cy="1028.30" r="2.70" fill="#ec8f86" stroke="#cf4b4b" stroke-width="1.1"/>
<circle cx="76.84" cy="1024.58" r="2.70" fill="#ec8f86" stroke="#cf4b4b" stroke-width="1.1"/>
<circle cx="80.22" cy="1020.87" r="2.70" fill="#ec8f86" stroke="#cf4b4b" stroke-width="1.1"/>
<circle cx="83.59" cy="1017.15" r="2.70" fill="#ec8f86" stroke="#cf4b4b" stroke-width="1.1"/>
<circle cx="86.97" cy="1013.44" r="2.70" fill="#ec8f86" stroke="#cf4b4b" stroke-width="1.1"/>
<circle cx="90.35" cy="1009.75" r="2.70" fill="#ec8f86" stroke="#cf4b4b" stroke-width="1.1"/>
<circle cx="93.73" cy="1006.06" r="2.70" fill="#ec8f86" stroke="#cf4b4b" stroke-width="1.1"/>
<circle cx="97.11" cy="1002.79" r="2.70" fill="#ec8f86" stroke="#cf4b4b" stroke-width="1.1"/>
<circle cx="100.49" cy="999.61" r="2.70" fill="#ec8f86" stroke="#cf4b4b" stroke-width="1.1"/>
<circle cx="103.87" cy="996.82" r="2.70" fill="#ec8f86" stroke="#cf4b4b" stroke-width="1.1"/>
<circle cx="107.25" cy="994.19" r="2.70" fill="#ec8f86" stroke="#cf4b4b" stroke-width="1.1"/>
<circle cx="110.63" cy="991.84" r="2.70" fill="#ec8f86" stroke="#cf4b4b" stroke-width="1.1"/>
<circle cx="114.01" cy="989.69" r="2.70" fill="#ec8f86" stroke="#cf4b4b" stroke-width="1.1"/>
<circle cx="117.39" cy="987.94" r="2.70" fill="#ec8f86" stroke="#cf4b4b" stroke-width="1.1"/>
<circle cx="120.77" cy="986.47" r="2.70" fill="#ec8f86" stroke="#cf4b4b" stroke-width="1.1"/>
<circle cx="124.15" cy="985.17" r="2.70" fill="#ec8f86" stroke="#cf4b4b" stroke-width="1.1"/>
<circle cx="127.52" cy="983.96" r="2.70" fill="#ec8f86" stroke="#cf4b4b" stroke-width="1.1"/>
<circle cx="141.43" cy="985.01" r="2.70" fill="#ec8f86" stroke="#cf4b4b" stroke-width="1.1"/>
<circle cx="157.50" cy="993.90" r="2.70" fill="#ec8f86" stroke="#cf4b4b" stroke-width="1.1"/>
<circle cx="161.22" cy="996.58" r="2.70" fill="#ec8f86" stroke="#cf4b4b" stroke-width="1.1"/>
<circle cx="169.45" cy="1003.27" r="2.70" fill="#ec8f86" stroke="#cf4b4b" stroke-width="1.1"/>
<circle cx="189.82" cy="1025.97" r="2.70" fill="#ec8f86" stroke="#cf4b4b" stroke-width="1.1"/>
<circle cx="207.26" cy="1045.08" r="2.70" fill="#ec8f86" stroke="#cf4b4b" stroke-width="1.1"/>
<circle cx="221.36" cy="1057.49" r="2.70" fill="#ec8f86" stroke="#cf4b4b" stroke-width="1.1"/>
<circle cx="232.14" cy="1064.96" r="2.70" fill="#ec8f86" stroke="#cf4b4b" stroke-width="1.1"/>
<circle cx="292.08" cy="1083.29" r="2.70" fill="#ec8f86" stroke="#cf4b4b" stroke-width="1.1"/>
<path d="M66.60,1020.55 L73.46,994.81 L77.37,981.77 L81.19,966.26 L83.90,953.57 L87.37,938.41 L90.60,926.78 L93.83,915.50 L97.08,906.34 L100.29,899.29 L103.04,895.76 L105.29,892.94 L108.80,890.83 L112.24,891.67 L115.77,894.63 L119.00,901.40 L123.02,912.68 L136.54,963.44 L140.45,976.84 L150.84,1017.73 L157.50,1038.52 L168.86,1062.14" fill="none" stroke="#1f78be" stroke-width="1.1"/>
<path d="M66.60,1017.43 L69.57,1022.81 L63.63,1022.81 Z" fill="#8fc3ea" stroke="#1f78be" stroke-width="1.1"/>
<path d="M73.46,991.69 L76.43,997.08 L70.49,997.08 Z" fill="#8fc3ea" stroke="#1f78be" stroke-width="1.1"/>
<path d="M77.37,978.65 L80.34,984.04 L74.40,984.04 Z" fill="#8fc3ea" stroke="#1f78be" stroke-width="1.1"/>
<path d="M81.19,963.14 L84.16,968.53 L78.22,968.53 Z" fill="#8fc3ea" stroke="#1f78be" stroke-width="1.1"/>
<path d="M83.90,950.45 L86.87,955.84 L80.93,955.84 Z" fill="#8fc3ea" stroke="#1f78be" stroke-width="1.1"/>
<path d="M87.37,935.29 L90.34,940.68 L84.40,940.68 Z" fill="#8fc3ea" stroke="#1f78be" stroke-width="1.1"/>
<path d="M90.60,923.66 L93.57,929.05 L87.63,929.05 Z" fill="#8fc3ea" stroke="#1f78be" stroke-width="1.1"/>
<path d="M93.83,912.38 L96.80,917.77 L90.86,917.77 Z" fill="#8fc3ea" stroke="#1f78be" stroke-width="1.1"/>
<path d="M97.08,903.22 L100.05,908.60 L94.11,908.60 Z" fill="#8fc3ea" stroke="#1f78be" stroke-width="1.1"/>
<path d="M100.29,896.17 L103.26,901.55 L97.32,901.55 Z" fill="#8fc3ea" stroke="#1f78be" stroke-width="1.1"/>
<path d="M103.04,892.64 L106.01,898.03 L100.07,898.03 Z" fill="#8fc3ea" stroke="#1f78be" stroke-width="1.1"/>
<path d="M105.29,889.82 L108.26,895.21 L102.32,895.21 Z" fill="#8fc3ea" stroke="#1f78be" stroke-width="1.1"/>
<path d="M108.80,887.71 L111.77,893.09 L105.83,893.09 Z" fill="#8fc3ea" stroke="#1f78be" stroke-width="1.1"/>
<path d="M112.24,888.55 L115.21,893.94 L109.27,893.94 Z" fill="#8fc3ea" stroke="#1f78be" stroke-width="1.1"/>
<path d="M115.77,891.51 L118.74,896.90 L112.80,896.90 Z" fill="#8fc3ea" stroke="#1f78be" stroke-width="1.1"/>
<path d="M119.00,898.28 L121.97,903.67 L116.03,903.67 Z" fill="#8fc3ea" stroke="#1f78be" stroke-width="1.1"/>
<path d="M123.02,909.56 L125.99,914.95 L120.05,914.95 Z" fill="#8fc3ea" stroke="#1f78be" stroke-width="1.1"/>
<path d="M136.54,960.32 L139.51,965.71 L133.57,965.71 Z" fill="#8fc3ea" stroke="#1f78be" stroke-width="1.1"/>
<path d="M140.45,973.72 L143.42,979.10 L137.48,979.10 Z" fill="#8fc3ea" stroke="#1f78be" stroke-width="1.1"/>
<path d="M150.84,1014.61 L153.81,1019.99 L147.87,1019.99 Z" fill="#8fc3ea" stroke="#1f78be" stroke-width="1.1"/>
<path d="M157.50,1035.40 L160.47,1040.79 L154.53,1040.79 Z" fill="#8fc3ea" stroke="#1f78be" stroke-width="1.1"/>
<path d="M168.86,1059.02 L171.83,1064.41 L165.89,1064.41 Z" fill="#8fc3ea" stroke="#1f78be" stroke-width="1.1"/>
<path d="M66.60,1023.37 L73.46,1000.81 L77.37,986.00 L81.19,971.90 L84.43,959.21 L87.95,946.10 L91.28,934.54 L94.61,923.26 L97.94,914.09 L101.47,906.34 L104.80,900.70 L107.93,898.09 L112.24,898.72 L115.97,900.41 L119.49,905.14 L123.02,912.68 L126.74,923.26 L133.60,944.40 L140.45,972.61 L148.88,1007.15 L156.71,1032.53 L162.20,1042.82 L165.92,1050.37 L168.86,1057.49" fill="none" stroke="#1e9845" stroke-width="1.1"/>
<path d="M66.60,1026.48 L69.57,1021.10 L63.63,1021.10 Z" fill="#72c28a" stroke="#1e9845" stroke-width="1.1"/>
<path d="M73.46,1003.92 L76.43,998.54 L70.49,998.54 Z" fill="#72c28a" stroke="#1e9845" stroke-width="1.1"/>
<path d="M77.37,989.12 L80.34,983.73 L74.40,983.73 Z" fill="#72c28a" stroke="#1e9845" stroke-width="1.1"/>
<path d="M81.19,975.02 L84.16,969.63 L78.22,969.63 Z" fill="#72c28a" stroke="#1e9845" stroke-width="1.1"/>
<path d="M84.43,962.33 L87.40,956.94 L81.46,956.94 Z" fill="#72c28a" stroke="#1e9845" stroke-width="1.1"/>
<path d="M87.95,949.22 L90.92,943.83 L84.98,943.83 Z" fill="#72c28a" stroke="#1e9845" stroke-width="1.1"/>
<path d="M91.28,937.65 L94.25,932.27 L88.31,932.27 Z" fill="#72c28a" stroke="#1e9845" stroke-width="1.1"/>
<path d="M94.61,926.37 L97.58,920.99 L91.64,920.99 Z" fill="#72c28a" stroke="#1e9845" stroke-width="1.1"/>
<path d="M97.94,917.21 L100.91,911.82 L94.97,911.82 Z" fill="#72c28a" stroke="#1e9845" stroke-width="1.1"/>
<path d="M101.47,909.45 L104.44,904.07 L98.50,904.07 Z" fill="#72c28a" stroke="#1e9845" stroke-width="1.1"/>
<path d="M104.80,903.81 L107.77,898.43 L101.83,898.43 Z" fill="#72c28a" stroke="#1e9845" stroke-width="1.1"/>
<path d="M107.93,901.21 L110.90,895.82 L104.96,895.82 Z" fill="#72c28a" stroke="#1e9845" stroke-width="1.1"/>
<path d="M112.24,901.84 L115.21,896.45 L109.27,896.45 Z" fill="#72c28a" stroke="#1e9845" stroke-width="1.1"/>
<path d="M115.97,903.53 L118.94,898.14 L113.00,898.14 Z" fill="#72c28a" stroke="#1e9845" stroke-width="1.1"/>
<path d="M119.49,908.26 L122.46,902.87 L116.52,902.87 Z" fill="#72c28a" stroke="#1e9845" stroke-width="1.1"/>
<path d="M123.02,915.80 L125.99,910.41 L120.05,910.41 Z" fill="#72c28a" stroke="#1e9845" stroke-width="1.1"/>
<path d="M126.74,926.37 L129.71,920.99 L123.77,920.99 Z" fill="#72c28a" stroke="#1e9845" stroke-width="1.1"/>
<path d="M133.60,947.52 L136.57,942.14 L130.63,942.14 Z" fill="#72c28a" stroke="#1e9845" stroke-width="1.1"/>
<path d="M140.45,975.72 L143.42,970.34 L137.48,970.34 Z" fill="#72c28a" stroke="#1e9845" stroke-width="1.1"/>
<path d="M148.88,1010.27 L151.85,1004.88 L145.91,1004.88 Z" fill="#72c28a" stroke="#1e9845" stroke-width="1.1"/>
<path d="M156.71,1035.65 L159.68,1030.26 L153.74,1030.26 Z" fill="#72c28a" stroke="#1e9845" stroke-width="1.1"/>
<path d="M162.20,1045.94 L165.17,1040.56 L159.23,1040.56 Z" fill="#72c28a" stroke="#1e9845" stroke-width="1.1"/>
<path d="M165.92,1053.49 L168.89,1048.10 L162.95,1048.10 Z" fill="#72c28a" stroke="#1e9845" stroke-width="1.1"/>
<path d="M168.86,1060.61 L171.83,1055.22 L165.89,1055.22 Z" fill="#72c28a" stroke="#1e9845" stroke-width="1.1"/>
<line x1="252.40" y1="924.90" x2="278.70" y2="924.90" stroke="#f6ad3c" stroke-width="1.3"/>
<rect x="262.85" y="922.20" width="5.40" height="5.40" fill="#f3d37e" stroke="#f6ad3c" stroke-width="1.1"/>
<text x="285.10" y="929.50" font-size="13.0" text-anchor="start" stroke="#231f20" stroke-width="0.22">0 bar</text>
<line x1="252.40" y1="940.70" x2="278.70" y2="940.70" stroke="#d35a5a" stroke-width="1.3"/>
<circle cx="265.55" cy="940.70" r="2.70" fill="#ec8f86" stroke="#cf4b4b" stroke-width="1.1"/>
<text x="285.10" y="945.30" font-size="13.0" text-anchor="start" stroke="#231f20" stroke-width="0.22">30 bar</text>
<line x1="252.40" y1="956.10" x2="278.70" y2="956.10" stroke="#1f78be" stroke-width="1.3"/>
<path d="M265.55,952.98 L268.52,958.37 L262.58,958.37 Z" fill="#8fc3ea" stroke="#1f78be" stroke-width="1.1"/>
<text x="285.10" y="960.70" font-size="13.0" text-anchor="start" stroke="#231f20" stroke-width="0.22">60 bar</text>
<line x1="252.40" y1="971.90" x2="278.70" y2="971.90" stroke="#1e9845" stroke-width="1.3"/>
<path d="M265.55,975.02 L268.52,969.63 L262.58,969.63 Z" fill="#72c28a" stroke="#1e9845" stroke-width="1.1"/>
<text x="285.10" y="976.50" font-size="13.0" text-anchor="start" stroke="#231f20" stroke-width="0.22">120 bar</text>
<defs><linearGradient id="gr" x1="0" y1="0" x2="0" y2="1"><stop offset="0" stop-color="#f19486"/><stop offset="1" stop-color="#fff4f1"/></linearGradient><linearGradient id="gb" x1="0" y1="0" x2="0" y2="1"><stop offset="0" stop-color="#8dbde4"/><stop offset="1" stop-color="#f4f8fd"/></linearGradient></defs>
<rect x="427.90" y="968.98" width="38.6" height="18.32" fill="url(#gr)" stroke="#d9534f" stroke-width="1.2"/>
<rect x="427.90" y="987.30" width="38.6" height="114.50" fill="url(#gb)" stroke="#2b83c6" stroke-width="1.2"/>
<path d="M444.20,967.61 H450.20 M447.20,967.61 V970.35 M444.20,970.35 H450.20" stroke="#d9534f" stroke-width="1.2" fill="none"/>
<path d="M444.20,986.38 H450.20 M447.20,986.38 V988.22 M444.20,988.22 H450.20" stroke="#2b83c6" stroke-width="1.2" fill="none"/>
<rect x="522.20" y="964.40" width="38.6" height="18.32" fill="url(#gr)" stroke="#d9534f" stroke-width="1.2"/>
<rect x="522.20" y="982.72" width="38.6" height="119.08" fill="url(#gb)" stroke="#2b83c6" stroke-width="1.2"/>
<path d="M538.50,962.80 H544.50 M541.50,962.80 V966.00 M538.50,966.00 H544.50" stroke="#d9534f" stroke-width="1.2" fill="none"/>
<path d="M538.50,981.57 H544.50 M541.50,981.57 V983.87 M538.50,983.87 H544.50" stroke="#2b83c6" stroke-width="1.2" fill="none"/>
<rect x="616.80" y="918.60" width="38.6" height="68.70" fill="url(#gr)" stroke="#d9534f" stroke-width="1.2"/>
<rect x="616.80" y="987.30" width="38.6" height="114.50" fill="url(#gb)" stroke="#2b83c6" stroke-width="1.2"/>
<path d="M633.10,916.31 H639.10 M636.10,916.31 V920.89 M633.10,920.89 H639.10" stroke="#d9534f" stroke-width="1.2" fill="none"/>
<path d="M633.10,982.72 H639.10 M636.10,982.72 V991.88 M633.10,991.88 H639.10" stroke="#2b83c6" stroke-width="1.2" fill="none"/>
<text x="447.20" y="982.50" font-size="13" text-anchor="middle" stroke="#231f20" stroke-width="0.22" textLength="33" lengthAdjust="spacingAndGlyphs">13.5%</text>
<text x="541.50" y="978.50" font-size="13" text-anchor="middle" stroke="#231f20" stroke-width="0.22" textLength="33" lengthAdjust="spacingAndGlyphs">13.3%</text>
<text x="636.10" y="958.50" font-size="13" text-anchor="middle" stroke="#231f20" stroke-width="0.22" textLength="33" lengthAdjust="spacingAndGlyphs">42.3%</text>
<rect x="400.10" y="873.30" width="284.10" height="228.50" fill="none" stroke="#231f20" stroke-width="1.25"/>
<line x1="400.10" y1="1101.80" x2="404.10" y2="1101.80" stroke="#231f20" stroke-width="1.1"/>
<text x="395.60" y="1110.20" font-size="14.6" text-anchor="end" stroke="#231f20" stroke-width="0.22">0</text>
<line x1="400.10" y1="1056.00" x2="404.10" y2="1056.00" stroke="#231f20" stroke-width="1.1"/>
<text x="395.60" y="1064.40" font-size="14.6" text-anchor="end" stroke="#231f20" stroke-width="0.22">10</text>
<line x1="400.10" y1="1010.20" x2="404.10" y2="1010.20" stroke="#231f20" stroke-width="1.1"/>
<text x="395.60" y="1018.60" font-size="14.6" text-anchor="end" stroke="#231f20" stroke-width="0.22">20</text>
<line x1="400.10" y1="964.40" x2="404.10" y2="964.40" stroke="#231f20" stroke-width="1.1"/>
<text x="395.60" y="972.80" font-size="14.6" text-anchor="end" stroke="#231f20" stroke-width="0.22">30</text>
<line x1="400.10" y1="918.60" x2="404.10" y2="918.60" stroke="#231f20" stroke-width="1.1"/>
<text x="395.60" y="927.00" font-size="14.6" text-anchor="end" stroke="#231f20" stroke-width="0.22">40</text>
<line x1="400.10" y1="872.80" x2="404.10" y2="872.80" stroke="#231f20" stroke-width="1.1"/>
<text x="395.60" y="881.20" font-size="14.6" text-anchor="end" stroke="#231f20" stroke-width="0.22">50</text>
<line x1="400.10" y1="1078.90" x2="402.50" y2="1078.90" stroke="#231f20" stroke-width="1.1"/>
<line x1="400.10" y1="1033.10" x2="402.50" y2="1033.10" stroke="#231f20" stroke-width="1.1"/>
<line x1="400.10" y1="987.30" x2="402.50" y2="987.30" stroke="#231f20" stroke-width="1.1"/>
<line x1="400.10" y1="941.50" x2="402.50" y2="941.50" stroke="#231f20" stroke-width="1.1"/>
<line x1="400.10" y1="895.70" x2="402.50" y2="895.70" stroke="#231f20" stroke-width="1.1"/>
<line x1="447.20" y1="1097.80" x2="447.20" y2="1101.80" stroke="#231f20" stroke-width="1.1"/>
<line x1="541.50" y1="1097.80" x2="541.50" y2="1101.80" stroke="#231f20" stroke-width="1.1"/>
<line x1="636.10" y1="1097.80" x2="636.10" y2="1101.80" stroke="#231f20" stroke-width="1.1"/>
<text x="447.20" y="1122.00" font-size="16.5" text-anchor="middle" stroke="#231f20" stroke-width="0.22" font-style="italic" textLength="40" lengthAdjust="spacingAndGlyphs">e-TFX</text>
<text x="541.50" y="1122.00" font-size="16.5" text-anchor="middle" stroke="#231f20" stroke-width="0.22" font-style="italic" textLength="35" lengthAdjust="spacingAndGlyphs">i-TFX</text>
<text x="636.10" y="1122.00" font-size="16.5" text-anchor="middle" stroke="#231f20" stroke-width="0.22" textLength="45" lengthAdjust="spacingAndGlyphs">HPRO</text>
<text x="372.90" y="992.50" font-size="14.7" text-anchor="middle" stroke="#231f20" stroke-width="0.22" textLength="101.5" lengthAdjust="spacingAndGlyphs" transform="rotate(-90 372.90 992.50)">Thickness (um)</text>
<rect x="420.6" y="884.5" width="32.7" height="16.1" fill="url(#gr)" stroke="#d9534f" stroke-width="1.2"/>
<rect x="420.6" y="908.7" width="32.7" height="16.1" fill="url(#gb)" stroke="#2b83c6" stroke-width="1.2"/>
<text x="461.30" y="898.30" font-size="14.7" text-anchor="start" stroke="#231f20" stroke-width="0.22" textLength="118.8" lengthAdjust="spacingAndGlyphs">Compaction Loss</text>
<text x="461.30" y="922.00" font-size="14.7" text-anchor="start" stroke="#231f20" stroke-width="0.22" textLength="103" lengthAdjust="spacingAndGlyphs">Final Thickness</text>
</svg></body></html>
